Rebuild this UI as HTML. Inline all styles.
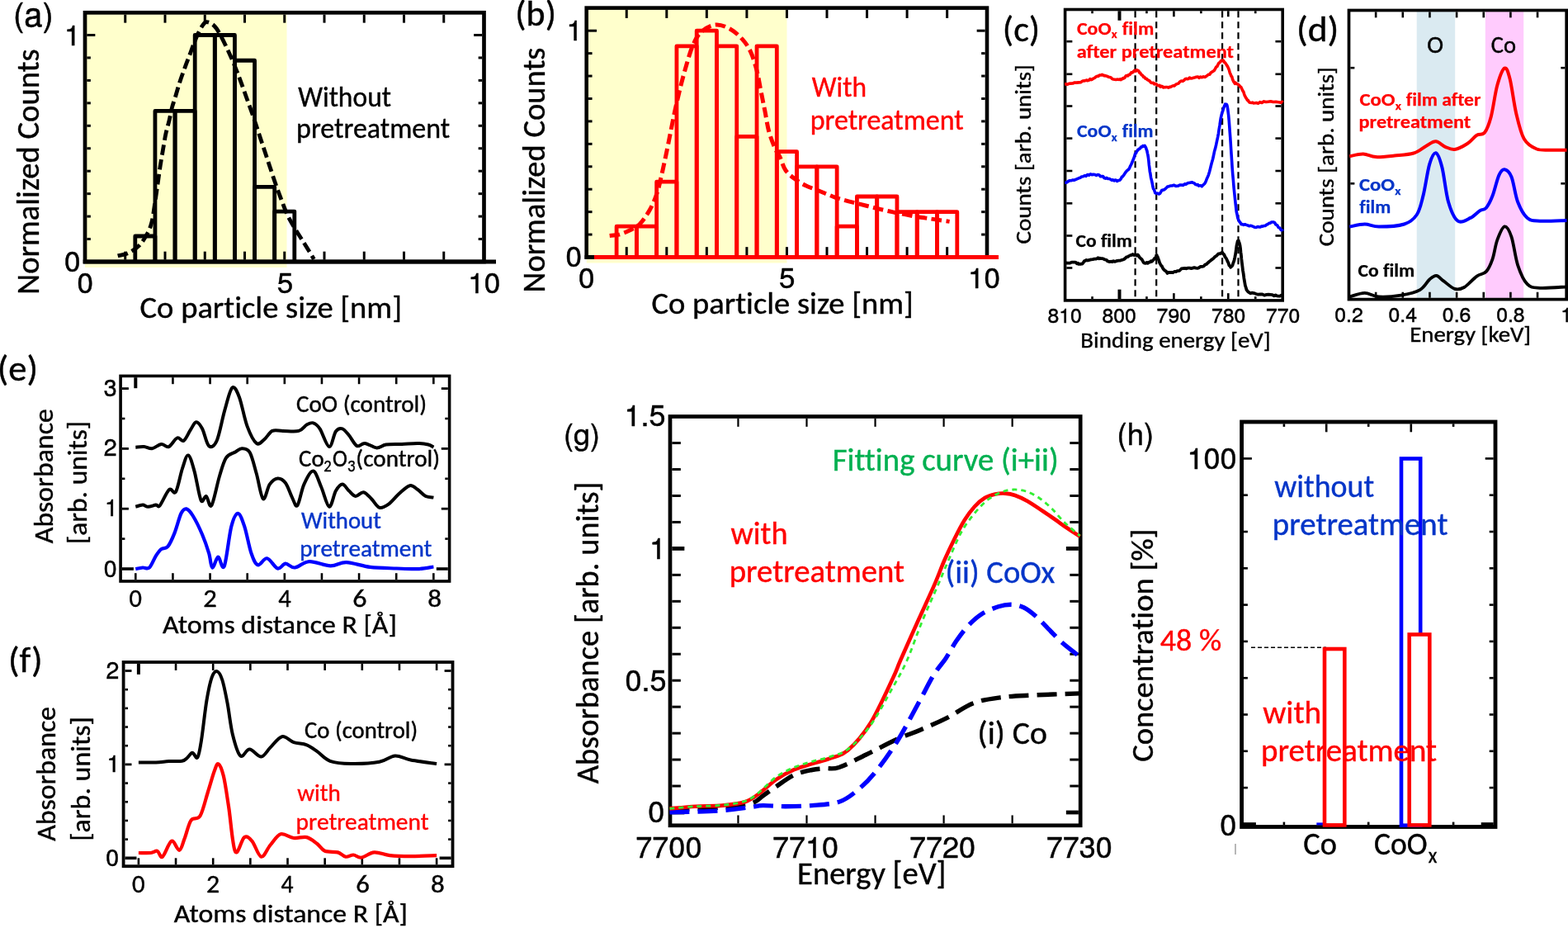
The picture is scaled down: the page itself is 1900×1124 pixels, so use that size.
<!DOCTYPE html>
<html><head><meta charset="utf-8"><title>Figure</title>
<style>html,body{margin:0;padding:0;background:#fff;}svg{display:block;}text{font-variant-ligatures:none;font-feature-settings:'liga' 0,'clig' 0;}</style></head>
<body><svg width="1900" height="1124" viewBox="0 0 1900 1124">
<rect width="1900" height="1124" fill="#fff"/>
<rect x="103" y="15.3" width="244.5" height="308.7" fill="#ffffcc" stroke="none" stroke-width="0"/>
<path d="M163.81,317 V285.98 H187.94 V317" fill="none" stroke="#000" stroke-width="4.8" stroke-linejoin="round"/>
<path d="M187.94,317 V134.46 H212.06 V317" fill="none" stroke="#000" stroke-width="4.8" stroke-linejoin="round"/>
<path d="M212.06,317 V134.46 H236.19 V317" fill="none" stroke="#000" stroke-width="4.8" stroke-linejoin="round"/>
<path d="M236.19,317 V42.5 H260.31 V317" fill="none" stroke="#000" stroke-width="4.8" stroke-linejoin="round"/>
<path d="M260.31,317 V42.5 H284.44 V317" fill="none" stroke="#000" stroke-width="4.8" stroke-linejoin="round"/>
<path d="M284.44,317 V73.24 H308.56 V317" fill="none" stroke="#000" stroke-width="4.8" stroke-linejoin="round"/>
<path d="M308.56,317 V226.41 H332.69 V317" fill="none" stroke="#000" stroke-width="4.8" stroke-linejoin="round"/>
<path d="M332.69,317 V256.06 H356.81 V317" fill="none" stroke="#000" stroke-width="4.8" stroke-linejoin="round"/>
<line x1="151.75" y1="17.65" x2="151.75" y2="27.65" stroke="#000" stroke-width="3"/>
<line x1="151.75" y1="314.65" x2="151.75" y2="304.65" stroke="#000" stroke-width="3"/>
<line x1="200" y1="17.65" x2="200" y2="27.65" stroke="#000" stroke-width="3"/>
<line x1="200" y1="314.65" x2="200" y2="304.65" stroke="#000" stroke-width="3"/>
<line x1="248.25" y1="17.65" x2="248.25" y2="27.65" stroke="#000" stroke-width="3"/>
<line x1="248.25" y1="314.65" x2="248.25" y2="304.65" stroke="#000" stroke-width="3"/>
<line x1="296.5" y1="17.65" x2="296.5" y2="27.65" stroke="#000" stroke-width="3"/>
<line x1="296.5" y1="314.65" x2="296.5" y2="304.65" stroke="#000" stroke-width="3"/>
<line x1="344.75" y1="17.65" x2="344.75" y2="27.65" stroke="#000" stroke-width="3"/>
<line x1="344.75" y1="314.65" x2="344.75" y2="304.65" stroke="#000" stroke-width="3"/>
<line x1="393" y1="17.65" x2="393" y2="27.65" stroke="#000" stroke-width="3"/>
<line x1="393" y1="314.65" x2="393" y2="304.65" stroke="#000" stroke-width="3"/>
<line x1="441.25" y1="17.65" x2="441.25" y2="27.65" stroke="#000" stroke-width="3"/>
<line x1="441.25" y1="314.65" x2="441.25" y2="304.65" stroke="#000" stroke-width="3"/>
<line x1="489.5" y1="17.65" x2="489.5" y2="27.65" stroke="#000" stroke-width="3"/>
<line x1="489.5" y1="314.65" x2="489.5" y2="304.65" stroke="#000" stroke-width="3"/>
<line x1="537.75" y1="17.65" x2="537.75" y2="27.65" stroke="#000" stroke-width="3"/>
<line x1="537.75" y1="314.65" x2="537.75" y2="304.65" stroke="#000" stroke-width="3"/>
<line x1="105.35" y1="317" x2="115.35" y2="317" stroke="#000" stroke-width="3"/>
<line x1="584.15" y1="317" x2="574.15" y2="317" stroke="#000" stroke-width="3"/>
<line x1="105.35" y1="289.55" x2="109.85" y2="289.55" stroke="#000" stroke-width="3"/>
<line x1="584.15" y1="289.55" x2="579.65" y2="289.55" stroke="#000" stroke-width="3"/>
<line x1="105.35" y1="262.1" x2="109.85" y2="262.1" stroke="#000" stroke-width="3"/>
<line x1="584.15" y1="262.1" x2="579.65" y2="262.1" stroke="#000" stroke-width="3"/>
<line x1="105.35" y1="234.65" x2="109.85" y2="234.65" stroke="#000" stroke-width="3"/>
<line x1="584.15" y1="234.65" x2="579.65" y2="234.65" stroke="#000" stroke-width="3"/>
<line x1="105.35" y1="207.2" x2="109.85" y2="207.2" stroke="#000" stroke-width="3"/>
<line x1="584.15" y1="207.2" x2="579.65" y2="207.2" stroke="#000" stroke-width="3"/>
<line x1="105.35" y1="179.75" x2="109.85" y2="179.75" stroke="#000" stroke-width="3"/>
<line x1="584.15" y1="179.75" x2="579.65" y2="179.75" stroke="#000" stroke-width="3"/>
<line x1="105.35" y1="152.3" x2="109.85" y2="152.3" stroke="#000" stroke-width="3"/>
<line x1="584.15" y1="152.3" x2="579.65" y2="152.3" stroke="#000" stroke-width="3"/>
<line x1="105.35" y1="124.85" x2="109.85" y2="124.85" stroke="#000" stroke-width="3"/>
<line x1="584.15" y1="124.85" x2="579.65" y2="124.85" stroke="#000" stroke-width="3"/>
<line x1="105.35" y1="97.4" x2="109.85" y2="97.4" stroke="#000" stroke-width="3"/>
<line x1="584.15" y1="97.4" x2="579.65" y2="97.4" stroke="#000" stroke-width="3"/>
<line x1="105.35" y1="69.95" x2="109.85" y2="69.95" stroke="#000" stroke-width="3"/>
<line x1="584.15" y1="69.95" x2="579.65" y2="69.95" stroke="#000" stroke-width="3"/>
<line x1="105.35" y1="42.5" x2="115.35" y2="42.5" stroke="#000" stroke-width="3"/>
<line x1="584.15" y1="42.5" x2="574.15" y2="42.5" stroke="#000" stroke-width="3"/>
<rect x="103" y="15.3" width="483.5" height="301.7" fill="none" stroke="#000" stroke-width="4.7" stroke-linejoin="miter"/>
<line x1="100.7" y1="317" x2="601" y2="317" stroke="#000" stroke-width="4.8"/>
<path d="M142.7,309.9 C144.8,309.33 150.93,308.62 155.3,306.5 C159.67,304.38 164.95,301.28 168.9,297.2 C172.85,293.12 176.48,286.78 179,282 C181.52,277.22 182.6,274.13 184,268.5 C185.4,262.87 186.27,255.52 187.4,248.2 C188.53,240.88 189.67,232.48 190.8,224.6 C191.93,216.72 193.07,208.22 194.2,200.9 C195.33,193.58 196.48,187.17 197.6,180.7 C198.72,174.23 199.63,168.02 200.9,162.1 C202.17,156.18 203.93,150.55 205.2,145.2 C206.47,139.85 207.33,134.47 208.5,130 C209.67,125.53 210.65,123.48 212.2,118.4 C213.75,113.32 215.75,105.8 217.8,99.5 C219.85,93.2 222.47,86.15 224.5,80.6 C226.53,75.05 228.33,70.65 230,66.2 C231.67,61.75 232.83,58.17 234.5,53.9 C236.17,49.63 238.15,44.48 240,40.6 C241.85,36.72 243.93,32.92 245.6,30.6 C247.27,28.28 248.15,26.98 250,26.7 C251.85,26.42 254.65,27.6 256.7,28.9 C258.75,30.2 260.45,32 262.3,34.5 C264.15,37 265.77,40.1 267.8,43.9 C269.83,47.7 272.45,53.03 274.5,57.3 C276.55,61.57 278.25,65.25 280.1,69.5 C281.95,73.75 283.75,78.17 285.6,82.8 C287.45,87.43 289.03,91.43 291.2,97.3 C293.37,103.17 296.18,111.25 298.6,118 C301.02,124.75 303.33,130.95 305.7,137.8 C308.07,144.65 310.43,151.98 312.8,159.1 C315.17,166.22 317.53,173.37 319.9,180.5 C322.27,187.63 324.63,194.78 327,201.9 C329.37,209.02 331.72,216.38 334.1,223.2 C336.48,230.02 338.92,236.57 341.3,242.8 C343.68,249.03 345.73,254.97 348.4,260.6 C351.07,266.23 354.33,271.57 357.3,276.6 C360.27,281.63 363.23,286.07 366.2,290.8 C369.17,295.53 372.73,301.13 375.1,305 C377.47,308.87 379.52,312.5 380.4,314" fill="none" stroke="#000" stroke-width="4.8" stroke-linejoin="round" stroke-dasharray="12.5,5.5"/>
<text x="15.9" y="31.5" font-family="'TeX Gyre Heros', 'Liberation Sans', Arial, sans-serif" font-size="40" fill="#000" stroke="#000" stroke-width="0.45">(a)</text>
<text x="77.88" y="54.7" font-family="'TeX Gyre Heros', 'Liberation Sans', Arial, sans-serif" font-size="35" fill="#000" stroke="#000" stroke-width="0.45">1</text>
<text x="78.12" y="328.5" font-family="'TeX Gyre Heros', 'Liberation Sans', Arial, sans-serif" font-size="35" fill="#000" stroke="#000" stroke-width="0.45">0</text>
<text x="93.62" y="354.5" font-family="'TeX Gyre Heros', 'Liberation Sans', Arial, sans-serif" font-size="35" fill="#000" stroke="#000" stroke-width="0.45">0</text>
<text x="335.72" y="354.5" font-family="'TeX Gyre Heros', 'Liberation Sans', Arial, sans-serif" font-size="35" fill="#000" stroke="#000" stroke-width="0.45">5</text>
<text x="567.26" y="354.5" font-family="'TeX Gyre Heros', 'Liberation Sans', Arial, sans-serif" font-size="35" fill="#000" stroke="#000" stroke-width="0.45">10</text>
<text x="361.15" y="129" font-family="Carlito, 'Liberation Sans', sans-serif" font-size="35" fill="#000" stroke="#000" stroke-width="0.4" textLength="112.83" lengthAdjust="spacingAndGlyphs">Without</text>
<text x="359.11" y="167" font-family="Carlito, 'Liberation Sans', sans-serif" font-size="35" fill="#000" stroke="#000" stroke-width="0.4" textLength="186.02" lengthAdjust="spacingAndGlyphs">pretreatment</text>
<text x="169.55" y="384.8" font-family="Carlito, 'Liberation Sans', sans-serif" font-size="37" fill="#000" stroke="#000" stroke-width="0.4" textLength="317.43" lengthAdjust="spacingAndGlyphs">Co particle size [nm]</text>
<text transform="translate(47,353.9) rotate(-90)" x="-2.8" y="0" font-family="Carlito, 'Liberation Sans', sans-serif" font-size="38" fill="#000" stroke="#000" stroke-width="0.4" textLength="297.27" lengthAdjust="spacingAndGlyphs">Normalized Counts</text>
<rect x="710.7" y="9.6" width="242.8" height="308.9" fill="#ffffcc" stroke="none" stroke-width="0"/>
<line x1="759.25" y1="11.95" x2="759.25" y2="21.95" stroke="#000" stroke-width="3"/>
<line x1="759.25" y1="309.15" x2="759.25" y2="299.15" stroke="#000" stroke-width="3"/>
<line x1="807.8" y1="11.95" x2="807.8" y2="21.95" stroke="#000" stroke-width="3"/>
<line x1="807.8" y1="309.15" x2="807.8" y2="299.15" stroke="#000" stroke-width="3"/>
<line x1="856.35" y1="11.95" x2="856.35" y2="21.95" stroke="#000" stroke-width="3"/>
<line x1="856.35" y1="309.15" x2="856.35" y2="299.15" stroke="#000" stroke-width="3"/>
<line x1="904.9" y1="11.95" x2="904.9" y2="21.95" stroke="#000" stroke-width="3"/>
<line x1="904.9" y1="309.15" x2="904.9" y2="299.15" stroke="#000" stroke-width="3"/>
<line x1="953.45" y1="11.95" x2="953.45" y2="21.95" stroke="#000" stroke-width="3"/>
<line x1="953.45" y1="309.15" x2="953.45" y2="299.15" stroke="#000" stroke-width="3"/>
<line x1="1002" y1="11.95" x2="1002" y2="21.95" stroke="#000" stroke-width="3"/>
<line x1="1002" y1="309.15" x2="1002" y2="299.15" stroke="#000" stroke-width="3"/>
<line x1="1050.55" y1="11.95" x2="1050.55" y2="21.95" stroke="#000" stroke-width="3"/>
<line x1="1050.55" y1="309.15" x2="1050.55" y2="299.15" stroke="#000" stroke-width="3"/>
<line x1="1099.1" y1="11.95" x2="1099.1" y2="21.95" stroke="#000" stroke-width="3"/>
<line x1="1099.1" y1="309.15" x2="1099.1" y2="299.15" stroke="#000" stroke-width="3"/>
<line x1="1147.65" y1="11.95" x2="1147.65" y2="21.95" stroke="#000" stroke-width="3"/>
<line x1="1147.65" y1="309.15" x2="1147.65" y2="299.15" stroke="#000" stroke-width="3"/>
<line x1="713.05" y1="311.5" x2="723.05" y2="311.5" stroke="#000" stroke-width="3"/>
<line x1="1193.65" y1="311.5" x2="1183.65" y2="311.5" stroke="#000" stroke-width="3"/>
<line x1="713.05" y1="284.07" x2="717.55" y2="284.07" stroke="#000" stroke-width="3"/>
<line x1="1193.65" y1="284.07" x2="1189.15" y2="284.07" stroke="#000" stroke-width="3"/>
<line x1="713.05" y1="256.64" x2="717.55" y2="256.64" stroke="#000" stroke-width="3"/>
<line x1="1193.65" y1="256.64" x2="1189.15" y2="256.64" stroke="#000" stroke-width="3"/>
<line x1="713.05" y1="229.21" x2="717.55" y2="229.21" stroke="#000" stroke-width="3"/>
<line x1="1193.65" y1="229.21" x2="1189.15" y2="229.21" stroke="#000" stroke-width="3"/>
<line x1="713.05" y1="201.78" x2="717.55" y2="201.78" stroke="#000" stroke-width="3"/>
<line x1="1193.65" y1="201.78" x2="1189.15" y2="201.78" stroke="#000" stroke-width="3"/>
<line x1="713.05" y1="174.35" x2="717.55" y2="174.35" stroke="#000" stroke-width="3"/>
<line x1="1193.65" y1="174.35" x2="1189.15" y2="174.35" stroke="#000" stroke-width="3"/>
<line x1="713.05" y1="146.92" x2="717.55" y2="146.92" stroke="#000" stroke-width="3"/>
<line x1="1193.65" y1="146.92" x2="1189.15" y2="146.92" stroke="#000" stroke-width="3"/>
<line x1="713.05" y1="119.49" x2="717.55" y2="119.49" stroke="#000" stroke-width="3"/>
<line x1="1193.65" y1="119.49" x2="1189.15" y2="119.49" stroke="#000" stroke-width="3"/>
<line x1="713.05" y1="92.06" x2="717.55" y2="92.06" stroke="#000" stroke-width="3"/>
<line x1="1193.65" y1="92.06" x2="1189.15" y2="92.06" stroke="#000" stroke-width="3"/>
<line x1="713.05" y1="64.63" x2="717.55" y2="64.63" stroke="#000" stroke-width="3"/>
<line x1="1193.65" y1="64.63" x2="1189.15" y2="64.63" stroke="#000" stroke-width="3"/>
<line x1="713.05" y1="37.2" x2="723.05" y2="37.2" stroke="#000" stroke-width="3"/>
<line x1="1193.65" y1="37.2" x2="1183.65" y2="37.2" stroke="#000" stroke-width="3"/>
<rect x="710.7" y="9.6" width="485.3" height="301.9" fill="none" stroke="#000" stroke-width="4.6" stroke-linejoin="miter"/>
<line x1="708.5" y1="311.5" x2="722" y2="311.5" stroke="#000" stroke-width="4.8"/>
<path d="M747.11,311.5 V274.2 H771.39 V311.5" fill="none" stroke="#ff0000" stroke-width="4.8" stroke-linejoin="round"/>
<path d="M771.39,311.5 V274.2 H795.66 V311.5" fill="none" stroke="#ff0000" stroke-width="4.8" stroke-linejoin="round"/>
<path d="M795.66,311.5 V220.16 H819.94 V311.5" fill="none" stroke="#ff0000" stroke-width="4.8" stroke-linejoin="round"/>
<path d="M819.94,311.5 V55.85 H844.21 V311.5" fill="none" stroke="#ff0000" stroke-width="4.8" stroke-linejoin="round"/>
<path d="M844.21,311.5 V37.2 H868.49 V311.5" fill="none" stroke="#ff0000" stroke-width="4.8" stroke-linejoin="round"/>
<path d="M868.49,311.5 V55.85 H892.76 V311.5" fill="none" stroke="#ff0000" stroke-width="4.8" stroke-linejoin="round"/>
<path d="M892.76,311.5 V165.3 H917.04 V311.5" fill="none" stroke="#ff0000" stroke-width="4.8" stroke-linejoin="round"/>
<path d="M917.04,311.5 V55.85 H941.31 V311.5" fill="none" stroke="#ff0000" stroke-width="4.8" stroke-linejoin="round"/>
<path d="M941.31,311.5 V183.68 H965.59 V311.5" fill="none" stroke="#ff0000" stroke-width="4.8" stroke-linejoin="round"/>
<path d="M965.59,311.5 V201.78 H989.86 V311.5" fill="none" stroke="#ff0000" stroke-width="4.8" stroke-linejoin="round"/>
<path d="M989.86,311.5 V201.78 H1014.14 V311.5" fill="none" stroke="#ff0000" stroke-width="4.8" stroke-linejoin="round"/>
<path d="M1014.14,311.5 V274.2 H1038.41 V311.5" fill="none" stroke="#ff0000" stroke-width="4.8" stroke-linejoin="round"/>
<path d="M1038.41,311.5 V237.99 H1062.69 V311.5" fill="none" stroke="#ff0000" stroke-width="4.8" stroke-linejoin="round"/>
<path d="M1062.69,311.5 V237.99 H1086.96 V311.5" fill="none" stroke="#ff0000" stroke-width="4.8" stroke-linejoin="round"/>
<path d="M1086.96,311.5 V256.64 H1111.24 V311.5" fill="none" stroke="#ff0000" stroke-width="4.8" stroke-linejoin="round"/>
<path d="M1111.24,311.5 V256.64 H1135.51 V311.5" fill="none" stroke="#ff0000" stroke-width="4.8" stroke-linejoin="round"/>
<path d="M1135.51,311.5 V256.64 H1159.79 V311.5" fill="none" stroke="#ff0000" stroke-width="4.8" stroke-linejoin="round"/>
<line x1="720" y1="311.5" x2="1210" y2="311.5" stroke="#ff0000" stroke-width="4.8"/>
<path d="M738.7,285.4 C740.58,285.18 746.05,285.13 750,284.1 C753.95,283.07 758.25,281.27 762.4,279.2 C766.55,277.13 770.75,275.87 774.9,271.7 C779.05,267.53 783.78,260.43 787.3,254.2 C790.82,247.97 793.5,241.77 796,234.3 C798.5,226.83 800.02,219.37 802.3,209.4 C804.58,199.43 807.22,186.55 809.7,174.5 C812.18,162.45 814.7,148.73 817.2,137.1 C819.7,125.47 822.2,114.67 824.7,104.7 C827.2,94.73 829.72,85.6 832.2,77.3 C834.68,69 836.7,61.33 839.6,54.9 C842.5,48.47 845.03,42.85 849.6,38.7 C854.17,34.55 861.18,30.62 867,30 C872.82,29.38 879.1,32.1 884.5,35 C889.9,37.9 895.25,42.83 899.4,47.4 C903.55,51.97 906.48,56.17 909.4,62.4 C912.32,68.63 914.82,76.92 916.9,84.8 C918.98,92.68 920.23,101.4 921.9,109.7 C923.57,118 925.25,126.3 926.9,134.6 C928.55,142.9 929.73,151.93 931.8,159.5 C933.87,167.07 937.1,174.92 939.3,180 C941.5,185.08 942.87,185.58 945,190 C947.13,194.42 948.9,201.92 952.1,206.5 C955.3,211.08 960.17,214.45 964.2,217.5 C968.23,220.55 972.27,222.78 976.3,224.8 C980.33,226.82 984.37,227.98 988.4,229.6 C992.43,231.22 996.47,232.88 1000.5,234.5 C1004.53,236.12 1008.57,237.9 1012.6,239.3 C1016.63,240.7 1020.67,241.78 1024.7,242.9 C1028.73,244.02 1032.77,244.98 1036.8,246 C1040.83,247.02 1044.87,248 1048.9,249 C1052.93,250 1056.95,251 1061,252 C1065.05,253 1069.15,254.08 1073.2,255 C1077.25,255.92 1081.27,256.68 1085.3,257.5 C1089.33,258.32 1093.37,259.1 1097.4,259.9 C1101.43,260.7 1105.47,261.6 1109.5,262.3 C1113.53,263 1117.57,263.5 1121.6,264.1 C1125.63,264.7 1128.87,265.18 1133.7,265.9 C1138.53,266.62 1147.78,267.98 1150.6,268.4" fill="none" stroke="#ff0000" stroke-width="5" stroke-linejoin="round" stroke-dasharray="12.5,5.5"/>
<text x="624.32" y="31.4" font-family="Carlito, 'Liberation Sans', sans-serif" font-size="43" fill="#000" stroke="#000" stroke-width="0.4" textLength="49.64" lengthAdjust="spacingAndGlyphs">(b)</text>
<text x="686.52" y="49.3" font-family="'TeX Gyre Heros', 'Liberation Sans', Arial, sans-serif" font-size="35" fill="#000" stroke="#000" stroke-width="0.45">1</text>
<text x="685.62" y="323" font-family="'TeX Gyre Heros', 'Liberation Sans', Arial, sans-serif" font-size="35" fill="#000" stroke="#000" stroke-width="0.45">0</text>
<text x="701.12" y="348.5" font-family="'TeX Gyre Heros', 'Liberation Sans', Arial, sans-serif" font-size="35" fill="#000" stroke="#000" stroke-width="0.45">0</text>
<text x="943.92" y="348.5" font-family="'TeX Gyre Heros', 'Liberation Sans', Arial, sans-serif" font-size="35" fill="#000" stroke="#000" stroke-width="0.45">5</text>
<text x="1173.11" y="348.5" font-family="'TeX Gyre Heros', 'Liberation Sans', Arial, sans-serif" font-size="35" fill="#000" stroke="#000" stroke-width="0.45">10</text>
<text x="983.75" y="117.4" font-family="Carlito, 'Liberation Sans', sans-serif" font-size="35" fill="#ff0000" stroke="#ff0000" stroke-width="0.4" textLength="66.24" lengthAdjust="spacingAndGlyphs">With</text>
<text x="981.71" y="156.6" font-family="Carlito, 'Liberation Sans', sans-serif" font-size="35" fill="#ff0000" stroke="#ff0000" stroke-width="0.4" textLength="185.92" lengthAdjust="spacingAndGlyphs">pretreatment</text>
<text x="789.45" y="380.3" font-family="Carlito, 'Liberation Sans', sans-serif" font-size="37" fill="#000" stroke="#000" stroke-width="0.4" textLength="317.43" lengthAdjust="spacingAndGlyphs">Co particle size [nm]</text>
<text transform="translate(659.6,351.7) rotate(-90)" x="-2.79" y="0" font-family="Carlito, 'Liberation Sans', sans-serif" font-size="38" fill="#000" stroke="#000" stroke-width="0.4" textLength="296.87" lengthAdjust="spacingAndGlyphs">Normalized Counts</text>
<line x1="1292.35" y1="50.2" x2="1299.35" y2="50.2" stroke="#000" stroke-width="2.6"/>
<line x1="1552.45" y1="50.2" x2="1545.45" y2="50.2" stroke="#000" stroke-width="2.6"/>
<line x1="1292.35" y1="89.8" x2="1299.35" y2="89.8" stroke="#000" stroke-width="2.6"/>
<line x1="1552.45" y1="89.8" x2="1545.45" y2="89.8" stroke="#000" stroke-width="2.6"/>
<line x1="1292.35" y1="128.5" x2="1299.35" y2="128.5" stroke="#000" stroke-width="2.6"/>
<line x1="1552.45" y1="128.5" x2="1545.45" y2="128.5" stroke="#000" stroke-width="2.6"/>
<line x1="1292.35" y1="167.6" x2="1299.35" y2="167.6" stroke="#000" stroke-width="2.6"/>
<line x1="1552.45" y1="167.6" x2="1545.45" y2="167.6" stroke="#000" stroke-width="2.6"/>
<line x1="1292.35" y1="207" x2="1299.35" y2="207" stroke="#000" stroke-width="2.6"/>
<line x1="1552.45" y1="207" x2="1545.45" y2="207" stroke="#000" stroke-width="2.6"/>
<line x1="1292.35" y1="246.3" x2="1299.35" y2="246.3" stroke="#000" stroke-width="2.6"/>
<line x1="1552.45" y1="246.3" x2="1545.45" y2="246.3" stroke="#000" stroke-width="2.6"/>
<line x1="1292.35" y1="285.5" x2="1299.35" y2="285.5" stroke="#000" stroke-width="2.6"/>
<line x1="1552.45" y1="285.5" x2="1545.45" y2="285.5" stroke="#000" stroke-width="2.6"/>
<line x1="1292.35" y1="324.5" x2="1299.35" y2="324.5" stroke="#000" stroke-width="2.6"/>
<line x1="1552.45" y1="324.5" x2="1545.45" y2="324.5" stroke="#000" stroke-width="2.6"/>
<line x1="1323.55" y1="13.25" x2="1323.55" y2="16.25" stroke="#000" stroke-width="2.6"/>
<line x1="1323.55" y1="362.15" x2="1323.55" y2="359.15" stroke="#000" stroke-width="2.6"/>
<line x1="1356.5" y1="13.25" x2="1356.5" y2="24.75" stroke="#000" stroke-width="4"/>
<line x1="1356.5" y1="362.15" x2="1356.5" y2="350.65" stroke="#000" stroke-width="4"/>
<line x1="1389.45" y1="13.25" x2="1389.45" y2="16.25" stroke="#000" stroke-width="2.6"/>
<line x1="1389.45" y1="362.15" x2="1389.45" y2="359.15" stroke="#000" stroke-width="2.6"/>
<line x1="1422.4" y1="13.25" x2="1422.4" y2="20.25" stroke="#000" stroke-width="2.6"/>
<line x1="1422.4" y1="362.15" x2="1422.4" y2="355.15" stroke="#000" stroke-width="2.6"/>
<line x1="1455.35" y1="13.25" x2="1455.35" y2="16.25" stroke="#000" stroke-width="2.6"/>
<line x1="1455.35" y1="362.15" x2="1455.35" y2="359.15" stroke="#000" stroke-width="2.6"/>
<line x1="1488.3" y1="13.25" x2="1488.3" y2="20.25" stroke="#000" stroke-width="2.6"/>
<line x1="1488.3" y1="362.15" x2="1488.3" y2="355.15" stroke="#000" stroke-width="2.6"/>
<line x1="1521.25" y1="13.25" x2="1521.25" y2="16.25" stroke="#000" stroke-width="2.6"/>
<line x1="1521.25" y1="362.15" x2="1521.25" y2="359.15" stroke="#000" stroke-width="2.6"/>
<line x1="1375.6" y1="13.25" x2="1375.6" y2="362.15" stroke="#000" stroke-width="2.2" stroke-dasharray="8,5"/>
<line x1="1401.2" y1="13.25" x2="1401.2" y2="362.15" stroke="#000" stroke-width="2.2" stroke-dasharray="8,5"/>
<line x1="1481.1" y1="13.25" x2="1481.1" y2="362.15" stroke="#000" stroke-width="2.2" stroke-dasharray="8,5"/>
<line x1="1500.5" y1="13.25" x2="1500.5" y2="362.15" stroke="#000" stroke-width="2.2" stroke-dasharray="8,5"/>
<rect x="1290.6" y="11.5" width="263.6" height="352.4" fill="none" stroke="#000" stroke-width="3.6" stroke-linejoin="miter"/>
<path d="M1290.1,101.82 L1291.39,101.86 L1293.16,102.27 L1295.26,101.32 L1297.56,101.13 L1299.92,100.97 L1302.2,100 L1304.51,100.13 L1306.99,99.88 L1309.53,99.66 L1312.01,98.04 L1314.34,97.87 L1316.4,97.05 L1318.15,97.72 L1319.65,97.07 L1321,95.55 L1322.27,96.57 L1323.54,96.05 L1324.9,95.05 L1326.36,94.42 L1327.87,93.06 L1329.38,92.19 L1330.84,92.42 L1332.23,91.16 L1333.5,91 L1334.59,90.86 L1335.51,90.38 L1336.36,91.03 L1337.2,91.04 L1338.12,91.82 L1339.2,91.53 L1340.45,92.1 L1341.83,92.41 L1343.28,93.29 L1344.76,93.61 L1346.25,93.94 L1347.7,95.6 L1349.15,96.04 L1350.64,96.25 L1352.13,96.45 L1353.57,96.16 L1354.95,96.23 L1356.2,96.36 L1357.3,95.86 L1358.26,96.66 L1359.14,95.63 L1360,95.81 L1360.9,94.5 L1361.9,94.83 L1363.02,94.03 L1364.21,91.97 L1365.45,91.56 L1366.69,91.92 L1367.88,90.46 L1369,90.57 L1370.05,88.93 L1371.06,87.67 L1372.03,87.84 L1372.96,87.41 L1373.85,86.04 L1374.7,85.34 L1375.47,85.44 L1376.16,86.24 L1376.8,85.8 L1377.44,84.8 L1378.13,85.2 L1378.9,85.36 L1379.75,85.95 L1380.64,88.04 L1381.57,88.13 L1382.54,89.89 L1383.55,90.86 L1384.6,91.51 L1385.68,93.36 L1386.81,93.39 L1387.97,95.19 L1389.17,95.31 L1390.41,96.71 L1391.7,97.24 L1393.06,98.13 L1394.51,100.01 L1396,100.46 L1397.49,100.34 L1398.94,101.91 L1400.3,101.44 L1401.57,102.31 L1402.78,103.59 L1403.94,103.75 L1405.09,103.35 L1406.23,105.2 L1407.4,104.34 L1408.57,104.78 L1409.71,105.97 L1410.86,105.59 L1412.03,105.78 L1413.24,105.55 L1414.5,105.54 L1415.82,106.13 L1417.17,105.24 L1418.57,105.35 L1420,104.42 L1421.48,103.91 L1423,104.03 L1424.6,102.47 L1426.28,101.66 L1428,101.11 L1429.72,98.98 L1431.4,97.97 L1433,98.35 L1434.49,97.51 L1435.89,95.97 L1437.26,95.3 L1438.62,95.68 L1440.02,95.57 L1441.5,94.01 L1443.07,94.95 L1444.69,94.69 L1446.36,94.15 L1448.04,93.79 L1449.73,93.2 L1451.4,92.96 L1453.08,94.31 L1454.78,93.06 L1456.49,93.71 L1458.17,92.82 L1459.82,93.42 L1461.4,92.55 L1462.92,91.37 L1464.4,90.32 L1465.83,90.2 L1467.23,88.05 L1468.58,87.12 L1469.9,86.39 L1471.2,85.45 L1472.47,83.44 L1473.71,81.19 L1474.89,80.53 L1475.99,77.87 L1477,76.33 L1477.88,75.72 L1478.64,75.13 L1479.33,73.8 L1479.98,73.44 L1480.62,73.41 L1481.3,73.62 L1481.99,72.99 L1482.65,73.61 L1483.31,74.91 L1483.99,75.73 L1484.71,76.14 L1485.5,77.41 L1486.38,78.86 L1487.34,80.18 L1488.34,82.31 L1489.35,84.66 L1490.31,88.39 L1491.2,90.12 L1491.99,92.45 L1492.71,92.86 L1493.4,95.68 L1494.07,97.12 L1494.76,98.99 L1495.5,99.51 L1496.28,101.36 L1497.09,100.25 L1497.91,101.15 L1498.74,101.55 L1499.57,102.03 L1500.4,102.28 L1501.24,103 L1502.09,104.05 L1502.94,105.27 L1503.78,105.5 L1504.61,107.27 L1505.4,108.94 L1506.16,110.41 L1506.89,111.42 L1507.59,113.86 L1508.29,115.79 L1508.99,117 L1509.7,118.5 L1510.37,119.26 L1510.98,120.57 L1511.59,121.46 L1512.26,121.34 L1513.04,122.86 L1514,123.99 L1515.11,124.29 L1516.31,124.43 L1517.63,124.17 L1519.09,124.92 L1520.7,124.79 L1522.5,124.6 L1524.5,125.14 L1526.71,123.68 L1529.07,124.41 L1531.55,122.91 L1534.11,123.53 L1536.7,123.17 L1539.57,122.74 L1542.79,123.55 L1546.09,123.35 L1549.19,123.68 L1551.82,124.3 L1553.7,123.31 L1553.7,123.7" fill="none" stroke="#ff0000" stroke-width="3.6" stroke-linejoin="round"/>
<path d="M1290.3,221.26 L1291.36,221.23 L1292.81,220.82 L1294.54,219.47 L1296.41,218.69 L1298.31,218.68 L1300.1,217.94 L1301.82,218.2 L1303.57,217.37 L1305.35,216.56 L1307.14,215.83 L1308.92,215.35 L1310.7,213.93 L1312.47,213.81 L1314.23,212.75 L1316,213.34 L1317.77,211.46 L1319.53,212.26 L1321.3,210.82 L1323.08,211.72 L1324.89,211.22 L1326.69,211.5 L1328.48,212.46 L1330.22,211.47 L1331.9,211.9 L1333.5,213.71 L1335.05,213.61 L1336.55,213.55 L1338.03,215.62 L1339.51,216.17 L1341,215.38 L1342.53,216.39 L1344.09,216.46 L1345.64,217.25 L1347.17,218.19 L1348.63,217.82 L1350,218.91 L1351.28,218.04 L1352.49,218.36 L1353.63,219.42 L1354.73,218.65 L1355.78,218.39 L1356.8,218.15 L1357.74,217.17 L1358.59,215.97 L1359.4,214.18 L1360.22,213.95 L1361.1,212.93 L1362.1,211.56 L1363.25,209.72 L1364.52,207.9 L1365.86,206.52 L1367.2,205.55 L1368.5,203.86 L1369.7,201.08 L1370.81,199 L1371.87,196.56 L1372.89,193.98 L1373.86,191.69 L1374.8,188.67 L1375.7,185.85 L1376.52,185.55 L1377.26,183.68 L1377.95,182.84 L1378.66,181.55 L1379.42,181.13 L1380.3,180.32 L1381.34,180.06 L1382.51,178.03 L1383.75,177.87 L1384.97,176.63 L1386.11,177.21 L1387.1,176.46 L1387.92,177.7 L1388.62,179.1 L1389.24,181.24 L1389.8,182.35 L1390.35,185.37 L1390.9,187.63 L1391.43,190.89 L1391.9,194.87 L1392.36,199.64 L1392.82,203 L1393.32,207.79 L1393.9,210.27 L1394.56,215.1 L1395.29,217.9 L1396.05,221.23 L1396.84,225.49 L1397.63,228.7 L1398.4,229.61 L1399.14,231.77 L1399.87,233.82 L1400.61,233.96 L1401.36,234.29 L1402.15,234.15 L1403,234.26 L1403.88,234.96 L1404.78,234.95 L1405.72,234.12 L1406.72,232.33 L1407.8,230.55 L1409,230.12 L1410.29,229.96 L1411.64,229.05 L1413.08,227.73 L1414.62,226.12 L1416.29,225.77 L1418.1,225.06 L1420.14,224.95 L1422.41,224.25 L1424.81,225.35 L1427.22,225.29 L1429.55,224.08 L1431.7,224.07 L1433.66,224.51 L1435.51,222.87 L1437.28,223.17 L1438.99,221.78 L1440.65,221.54 L1442.3,221.33 L1443.94,220.72 L1445.56,221.31 L1447.14,221.93 L1448.65,223.33 L1450.08,223.98 L1451.4,223.51 L1452.58,225.06 L1453.63,224.68 L1454.59,224.69 L1455.51,225.11 L1456.43,225.78 L1457.4,224.5 L1458.41,223.59 L1459.43,222.74 L1460.45,221.18 L1461.47,218.94 L1462.49,216.17 L1463.5,213.94 L1464.5,211.59 L1465.5,208.2 L1466.5,204.37 L1467.5,200.26 L1468.5,196.39 L1469.5,192.98 L1470.53,188.5 L1471.59,183.15 L1472.64,179.62 L1473.68,175.22 L1474.67,170.39 L1475.6,166.04 L1476.44,161.54 L1477.22,156.3 L1477.95,152.12 L1478.66,147.07 L1479.37,142.58 L1480.1,139.47 L1480.87,136.3 L1481.65,134.47 L1482.44,131.62 L1483.2,129.34 L1483.93,127.94 L1484.6,126.2 L1485.2,126.36 L1485.74,126.5 L1486.24,126.39 L1486.73,127.18 L1487.21,129.24 L1487.7,131.82 L1488.21,136.19 L1488.71,140.1 L1489.21,145.59 L1489.7,152.07 L1490.2,159.14 L1490.7,165.82 L1491.18,172.52 L1491.64,180.34 L1492.1,187.13 L1492.58,194.47 L1493.11,203.08 L1493.7,210.71 L1494.38,218.21 L1495.12,227.35 L1495.91,235.18 L1496.71,242.93 L1497.52,250.1 L1498.3,256.81 L1499,259.55 L1499.64,263.18 L1500.27,265.24 L1500.96,266.72 L1501.78,268.39 L1502.8,269.35 L1504.02,271.6 L1505.38,271.62 L1506.88,272.34 L1508.47,271.72 L1510.16,272.41 L1511.9,272.97 L1513.78,273.81 L1515.83,273.36 L1517.96,274.16 L1520.09,275.19 L1522.13,275.43 L1524,274.56 L1525.68,274.97 L1527.23,275.07 L1528.69,274.11 L1530.11,274.09 L1531.53,273.57 L1533,273.56 L1534.56,272.26 L1536.19,271.66 L1537.83,270.29 L1539.4,270.13 L1540.84,268.93 L1542.1,269 L1543.09,268.94 L1543.86,269.28 L1544.5,269.65 L1545.12,270.59 L1545.82,271.98 L1546.7,272.4 L1547.87,273.11 L1549.26,275.58 L1550.74,276.09 L1552.15,278.42 L1553.35,278.98 L1554.2,279.42 L1554.2,279.6" fill="none" stroke="#0000ff" stroke-width="3.6" stroke-linejoin="round"/>
<path d="M1291.6,318.01 L1292.79,318.64 L1294.48,318.53 L1296.46,318.68 L1298.53,317.54 L1300.51,317.59 L1302.2,317.54 L1303.59,317.94 L1304.83,319.22 L1305.97,318.78 L1307.06,319.89 L1308.16,319.66 L1309.3,319.77 L1310.43,319.58 L1311.51,319.52 L1312.58,318.25 L1313.71,316.35 L1314.97,315.86 L1316.4,314.93 L1318.1,315.53 L1320.04,314.91 L1322.1,314.45 L1324.16,314.09 L1326.1,313.64 L1327.8,313.72 L1329.23,313.29 L1330.49,312.32 L1331.62,313.23 L1332.69,312.68 L1333.77,313.22 L1334.9,313.1 L1336.08,313.21 L1337.27,313.58 L1338.45,314.23 L1339.63,314.61 L1340.82,314.8 L1342,316.31 L1343.15,316.56 L1344.26,317.11 L1345.37,316.82 L1346.52,316.73 L1347.75,317.11 L1349.1,316.12 L1350.62,316.91 L1352.27,316.4 L1354.01,315.78 L1355.77,315.54 L1357.49,315.69 L1359.1,314.81 L1360.62,314.52 L1362.1,313.98 L1363.53,312.78 L1364.93,311.48 L1366.28,311.25 L1367.6,310.18 L1368.88,309.62 L1370.12,309.04 L1371.33,308.86 L1372.49,308.04 L1373.61,308.73 L1374.7,309.13 L1375.72,308.27 L1376.68,308.96 L1377.59,309.59 L1378.5,308.58 L1379.43,309.3 L1380.4,311.09 L1381.41,312.19 L1382.43,313.26 L1383.47,314.03 L1384.54,315.92 L1385.64,317.89 L1386.8,318.72 L1388.04,318.9 L1389.37,317.94 L1390.74,318.73 L1392.1,317.54 L1393.41,317.57 L1394.6,316.12 L1395.72,316.84 L1396.81,315.46 L1397.85,314.77 L1398.8,313.06 L1399.62,312.88 L1400.3,312.13 L1400.75,311.47 L1400.98,310.34 L1401.09,310.23 L1401.18,309.13 L1401.35,308.92 L1401.7,309.06 L1402.22,310.87 L1402.81,311.46 L1403.49,313.5 L1404.25,315.28 L1405.09,318.21 L1406,319.89 L1406.99,321.62 L1408.06,322.68 L1409.2,325.18 L1410.42,326.74 L1411.72,327.79 L1413.1,328.7 L1414.55,330.94 L1416.09,329.85 L1417.69,330.19 L1419.38,329.99 L1421.15,330.23 L1423,329.02 L1424.98,329.07 L1427.1,328.05 L1429.31,327.8 L1431.53,325.47 L1433.71,325.13 L1435.8,324.79 L1437.78,325.3 L1439.71,324.57 L1441.59,324.63 L1443.46,325.1 L1445.32,324.59 L1447.2,324.05 L1449.1,324.54 L1451.02,324.86 L1452.94,324.18 L1454.83,322.9 L1456.69,322.95 L1458.5,322.46 L1460.23,320.59 L1461.88,320.04 L1463.5,318.47 L1465.12,317.02 L1466.77,315.77 L1468.5,314.33 L1470.37,313.05 L1472.38,310.78 L1474.42,309.54 L1476.4,307.42 L1478.23,307.28 L1479.8,306.46 L1481.07,305.66 L1482.11,307.61 L1483,307.81 L1483.81,309.67 L1484.61,311.31 L1485.5,312.43 L1486.47,314.1 L1487.45,316.5 L1488.44,318.31 L1489.4,321.56 L1490.33,321.93 L1491.2,323.82 L1492,322.79 L1492.74,322.31 L1493.44,321.32 L1494.13,319.16 L1494.81,317.3 L1495.5,315.28 L1496.22,312.12 L1496.96,308.49 L1497.69,303.92 L1498.4,297.85 L1499.08,294.89 L1499.7,291.91 L1500.26,292.1 L1500.77,291.4 L1501.24,293.18 L1501.69,294.16 L1502.14,295.52 L1502.6,297.71 L1503.06,301.05 L1503.49,305.73 L1503.91,308.76 L1504.36,313.75 L1504.85,318.08 L1505.4,322.35 L1506.01,327.48 L1506.67,331.28 L1507.37,336.86 L1508.11,341.3 L1508.88,345.72 L1509.7,348.23 L1510.47,351.1 L1511.18,351.82 L1511.93,352.99 L1512.82,353.69 L1513.94,354.55 L1515.4,355.24 L1517.27,354.59 L1519.5,355.07 L1521.97,356.03 L1524.55,356.73 L1527.13,356.51 L1529.6,356.38 L1532.03,357.7 L1534.54,356.89 L1537.06,356.77 L1539.49,356.91 L1541.76,357.03 L1543.8,358.26 L1545.64,357.34 L1547.37,358.33 L1548.94,358.56 L1550.31,358.74 L1551.44,358.41 L1552.3,357.78 L1552.3,357.9" fill="none" stroke="#000" stroke-width="3.8" stroke-linejoin="round"/>
<text x="1214.8" y="49.8" font-family="Carlito, 'Liberation Sans', sans-serif" font-size="43.5" fill="#000" stroke="#000" stroke-width="0.4" textLength="45.37" lengthAdjust="spacingAndGlyphs">(c)</text>
<text x="1305.02" y="41.7" font-family="Carlito, 'Liberation Sans', sans-serif" font-size="22.5" font-weight="bold" fill="#ff0000" stroke="#ff0000" stroke-width="0.25" textLength="41.53" lengthAdjust="spacingAndGlyphs">CoO</text>
<text x="1346.89" y="46.3" font-family="Carlito, 'Liberation Sans', sans-serif" font-size="14.5" font-weight="bold" fill="#ff0000" stroke="#ff0000" stroke-width="0.25" textLength="6.92" lengthAdjust="spacingAndGlyphs">x</text>
<text x="1359.76" y="41.7" font-family="Carlito, 'Liberation Sans', sans-serif" font-size="22.5" font-weight="bold" fill="#ff0000" stroke="#ff0000" stroke-width="0.25" textLength="38.51" lengthAdjust="spacingAndGlyphs">film</text>
<text x="1304.65" y="70" font-family="Carlito, 'Liberation Sans', sans-serif" font-size="22.5" font-weight="bold" fill="#ff0000" stroke="#ff0000" stroke-width="0.25" textLength="190.28" lengthAdjust="spacingAndGlyphs">after pretreatment</text>
<text x="1305.02" y="166.2" font-family="Carlito, 'Liberation Sans', sans-serif" font-size="22.5" font-weight="bold" fill="#0535c8" stroke="#0535c8" stroke-width="0.25" textLength="41.53" lengthAdjust="spacingAndGlyphs">CoO</text>
<text x="1346.89" y="170.8" font-family="Carlito, 'Liberation Sans', sans-serif" font-size="14.5" font-weight="bold" fill="#0535c8" stroke="#0535c8" stroke-width="0.25" textLength="6.92" lengthAdjust="spacingAndGlyphs">x</text>
<text x="1359.77" y="166.2" font-family="Carlito, 'Liberation Sans', sans-serif" font-size="22.5" font-weight="bold" fill="#0535c8" stroke="#0535c8" stroke-width="0.25" textLength="37.78" lengthAdjust="spacingAndGlyphs">film</text>
<text x="1303.53" y="298.5" font-family="Carlito, 'Liberation Sans', sans-serif" font-size="22.5" font-weight="bold" fill="#000" stroke="#000" stroke-width="0.25" textLength="68.44" lengthAdjust="spacingAndGlyphs">Co film</text>
<text x="1269.5" y="390.5" font-family="'TeX Gyre Heros', 'Liberation Sans', Arial, sans-serif" font-size="24.8" fill="#000" stroke="#000" stroke-width="0.45">810</text>
<text x="1335.5" y="390.5" font-family="'TeX Gyre Heros', 'Liberation Sans', Arial, sans-serif" font-size="24.8" fill="#000" stroke="#000" stroke-width="0.45">800</text>
<text x="1401.6" y="390.5" font-family="'TeX Gyre Heros', 'Liberation Sans', Arial, sans-serif" font-size="24.8" fill="#000" stroke="#000" stroke-width="0.45">790</text>
<text x="1467.9" y="390.5" font-family="'TeX Gyre Heros', 'Liberation Sans', Arial, sans-serif" font-size="24.8" fill="#000" stroke="#000" stroke-width="0.45">780</text>
<text x="1534" y="390.5" font-family="'TeX Gyre Heros', 'Liberation Sans', Arial, sans-serif" font-size="24.8" fill="#000" stroke="#000" stroke-width="0.45">770</text>
<text x="1309.38" y="421" font-family="Carlito, 'Liberation Sans', sans-serif" font-size="27.5" fill="#000" stroke="#000" stroke-width="0.4" textLength="230.24" lengthAdjust="spacingAndGlyphs">Binding energy [eV]</text>
<text transform="translate(1248.6,294.6) rotate(-90)" x="-0.94" y="0" font-family="Carlito, 'Liberation Sans', sans-serif" font-size="27.5" fill="#000" stroke="#000" stroke-width="0.4" textLength="217.43" lengthAdjust="spacingAndGlyphs">Counts [arb. units]</text>
<rect x="1716.7" y="12.5" width="46.5" height="350.1" fill="#daeaf1" stroke="none" stroke-width="0"/>
<rect x="1799.8" y="12.5" width="46.4" height="350.1" fill="#ffcbfd" stroke="none" stroke-width="0"/>
<line x1="1636.35" y1="82.2" x2="1641.35" y2="82.2" stroke="#000" stroke-width="2.6"/>
<line x1="1896.35" y1="82.2" x2="1891.35" y2="82.2" stroke="#000" stroke-width="2.6"/>
<line x1="1636.35" y1="222.3" x2="1641.35" y2="222.3" stroke="#000" stroke-width="2.6"/>
<line x1="1896.35" y1="222.3" x2="1891.35" y2="222.3" stroke="#000" stroke-width="2.6"/>
<line x1="1667.15" y1="14.35" x2="1667.15" y2="21.35" stroke="#000" stroke-width="2.6"/>
<line x1="1667.15" y1="360.75" x2="1667.15" y2="353.75" stroke="#000" stroke-width="2.6"/>
<line x1="1699.8" y1="14.35" x2="1699.8" y2="21.35" stroke="#000" stroke-width="2.6"/>
<line x1="1699.8" y1="360.75" x2="1699.8" y2="353.75" stroke="#000" stroke-width="2.6"/>
<line x1="1732.45" y1="14.35" x2="1732.45" y2="21.35" stroke="#000" stroke-width="2.6"/>
<line x1="1732.45" y1="360.75" x2="1732.45" y2="353.75" stroke="#000" stroke-width="2.6"/>
<line x1="1765.1" y1="14.35" x2="1765.1" y2="21.35" stroke="#000" stroke-width="2.6"/>
<line x1="1765.1" y1="360.75" x2="1765.1" y2="353.75" stroke="#000" stroke-width="2.6"/>
<line x1="1797.75" y1="14.35" x2="1797.75" y2="21.35" stroke="#000" stroke-width="2.6"/>
<line x1="1797.75" y1="360.75" x2="1797.75" y2="353.75" stroke="#000" stroke-width="2.6"/>
<line x1="1830.4" y1="14.35" x2="1830.4" y2="21.35" stroke="#000" stroke-width="2.6"/>
<line x1="1830.4" y1="360.75" x2="1830.4" y2="353.75" stroke="#000" stroke-width="2.6"/>
<line x1="1863.05" y1="14.35" x2="1863.05" y2="21.35" stroke="#000" stroke-width="2.6"/>
<line x1="1863.05" y1="360.75" x2="1863.05" y2="353.75" stroke="#000" stroke-width="2.6"/>
<rect x="1634.5" y="12.5" width="263.7" height="350.1" fill="none" stroke="#000" stroke-width="3.7" stroke-linejoin="miter"/>
<path d="M1635.3,189.3 C1638.05,188.85 1646.5,186.47 1651.8,186.6 C1657.1,186.73 1660.73,189.78 1667.1,190.1 C1673.47,190.42 1682.35,189.27 1690,188.5 C1697.65,187.73 1706.62,187.47 1713,185.5 C1719.38,183.53 1723.83,179.07 1728.3,176.7 C1732.77,174.33 1735.98,171.12 1739.8,171.3 C1743.62,171.48 1747.38,176.2 1751.2,177.8 C1755.02,179.4 1758.23,181.53 1762.7,180.9 C1767.17,180.27 1773.53,176.87 1778,174 C1782.47,171.13 1786,165.93 1789.5,163.7 C1793,161.47 1796.13,164.3 1799,160.6 C1801.87,156.9 1804.15,151.05 1806.7,141.5 C1809.25,131.95 1811.57,113.12 1814.3,103.3 C1817.03,93.48 1820.55,83.88 1823.1,82.6 C1825.65,81.32 1827.23,86.42 1829.6,95.6 C1831.97,104.78 1834.43,125.58 1837.3,137.7 C1840.17,149.82 1842.67,161.17 1846.8,168.3 C1850.93,175.43 1856.37,178.27 1862.1,180.5 C1867.83,182.73 1875.13,181.5 1881.2,181.7 C1887.27,181.9 1895.62,181.7 1898.5,181.7" fill="none" stroke="#ff0000" stroke-width="4" stroke-linejoin="round"/>
<path d="M1635.3,274.6 C1638.37,274.08 1647.77,271.5 1653.7,271.5 C1659.63,271.5 1662.93,274.6 1670.9,274.6 C1678.87,274.6 1693.85,273.93 1701.5,271.5 C1709.15,269.07 1712.97,265.73 1716.8,260 C1720.63,254.27 1721.93,247.28 1724.5,237.1 C1727.07,226.92 1729.65,207.55 1732.2,198.9 C1734.75,190.25 1737.27,184.57 1739.8,185.2 C1742.33,185.83 1744.85,192.77 1747.4,202.7 C1749.95,212.63 1751.92,233.97 1755.1,244.8 C1758.28,255.63 1762.05,264.52 1766.5,267.7 C1770.95,270.88 1777.33,266 1781.8,263.9 C1786.27,261.8 1790.12,257.13 1793.3,255.1 C1796.48,253.07 1798.35,254.7 1800.9,251.7 C1803.45,248.7 1806.03,243.67 1808.6,237.1 C1811.17,230.53 1813.88,217.62 1816.3,212.3 C1818.72,206.98 1820.57,204.88 1823.1,205.2 C1825.63,205.52 1828.82,207.6 1831.5,214.2 C1834.18,220.8 1836,236.52 1839.2,244.8 C1842.4,253.08 1846.23,260.08 1850.7,263.9 C1855.17,267.72 1858.03,267.2 1866,267.7 C1873.97,268.2 1893.08,267.03 1898.5,266.9" fill="none" stroke="#0000ff" stroke-width="4" stroke-linejoin="round"/>
<path d="M1635.3,359.5 C1638.37,358.73 1647.77,354.9 1653.7,354.9 C1659.63,354.9 1663.57,359.05 1670.9,359.5 C1678.23,359.95 1689.42,359 1697.7,357.6 C1705.98,356.2 1714.85,354.28 1720.6,351.1 C1726.35,347.92 1728.88,341.37 1732.2,338.5 C1735.52,335.63 1737.65,333.58 1740.5,333.9 C1743.35,334.22 1745.6,337.73 1749.3,340.4 C1753,343.07 1758.55,348.63 1762.7,349.9 C1766.85,351.17 1769.73,350.55 1774.2,348 C1778.67,345.45 1785.05,337.78 1789.5,334.6 C1793.95,331.42 1797.72,332.4 1800.9,328.9 C1804.08,325.4 1806.37,319.97 1808.6,313.6 C1810.83,307.23 1811.88,297.23 1814.3,290.7 C1816.72,284.17 1820.23,275.05 1823.1,274.4 C1825.97,273.75 1828.82,278.98 1831.5,286.8 C1834.18,294.62 1836,311.73 1839.2,321.3 C1842.4,330.87 1846.23,339.62 1850.7,344.2 C1855.17,348.78 1858.03,348.28 1866,348.8 C1873.97,349.32 1893.08,347.55 1898.5,347.3" fill="none" stroke="#000" stroke-width="3.8" stroke-linejoin="round"/>
<text x="1729.15" y="63.6" font-family="Carlito, 'Liberation Sans', sans-serif" font-size="28.5" fill="#000" stroke="#000" stroke-width="0.4" textLength="19.78" lengthAdjust="spacingAndGlyphs">O</text>
<text x="1806.87" y="63.5" font-family="Carlito, 'Liberation Sans', sans-serif" font-size="28.5" fill="#000" stroke="#000" stroke-width="0.4" textLength="30.21" lengthAdjust="spacingAndGlyphs">Co</text>
<text x="1571.01" y="49.7" font-family="Carlito, 'Liberation Sans', sans-serif" font-size="42.5" fill="#000" stroke="#000" stroke-width="0.4" textLength="51.37" lengthAdjust="spacingAndGlyphs">(d)</text>
<text x="1647.51" y="128" font-family="Carlito, 'Liberation Sans', sans-serif" font-size="23" font-weight="bold" fill="#ff0000" stroke="#ff0000" stroke-width="0.25" textLength="43.07" lengthAdjust="spacingAndGlyphs">CoO</text>
<text x="1690.88" y="132.5" font-family="Carlito, 'Liberation Sans', sans-serif" font-size="14.5" font-weight="bold" fill="#ff0000" stroke="#ff0000" stroke-width="0.25" textLength="7.23" lengthAdjust="spacingAndGlyphs">x</text>
<text x="1703.76" y="128" font-family="Carlito, 'Liberation Sans', sans-serif" font-size="23" font-weight="bold" fill="#ff0000" stroke="#ff0000" stroke-width="0.25" textLength="90.6" lengthAdjust="spacingAndGlyphs">film after</text>
<text x="1646.55" y="155" font-family="Carlito, 'Liberation Sans', sans-serif" font-size="23" font-weight="bold" fill="#ff0000" stroke="#ff0000" stroke-width="0.25" textLength="135.59" lengthAdjust="spacingAndGlyphs">pretreatment</text>
<text x="1647.01" y="231.4" font-family="Carlito, 'Liberation Sans', sans-serif" font-size="23" font-weight="bold" fill="#0535c8" stroke="#0535c8" stroke-width="0.25" textLength="43.07" lengthAdjust="spacingAndGlyphs">CoO</text>
<text x="1690.38" y="236" font-family="Carlito, 'Liberation Sans', sans-serif" font-size="14.5" font-weight="bold" fill="#0535c8" stroke="#0535c8" stroke-width="0.25" textLength="7.23" lengthAdjust="spacingAndGlyphs">x</text>
<text x="1647.26" y="258" font-family="Carlito, 'Liberation Sans', sans-serif" font-size="23" font-weight="bold" fill="#0535c8" stroke="#0535c8" stroke-width="0.25" textLength="37.99" lengthAdjust="spacingAndGlyphs">film</text>
<text x="1645.53" y="334.6" font-family="Carlito, 'Liberation Sans', sans-serif" font-size="23" font-weight="bold" fill="#000" stroke="#000" stroke-width="0.25" textLength="68.75" lengthAdjust="spacingAndGlyphs">Co film</text>
<text x="1617.3" y="389.5" font-family="'TeX Gyre Heros', 'Liberation Sans', Arial, sans-serif" font-size="24.8" fill="#000" stroke="#000" stroke-width="0.45">0.2</text>
<text x="1682.47" y="389.5" font-family="'TeX Gyre Heros', 'Liberation Sans', Arial, sans-serif" font-size="24.8" fill="#000" stroke="#000" stroke-width="0.45">0.4</text>
<text x="1747.86" y="389.5" font-family="'TeX Gyre Heros', 'Liberation Sans', Arial, sans-serif" font-size="24.8" fill="#000" stroke="#000" stroke-width="0.45">0.6</text>
<text x="1813.16" y="389.5" font-family="'TeX Gyre Heros', 'Liberation Sans', Arial, sans-serif" font-size="24.8" fill="#000" stroke="#000" stroke-width="0.45">0.8</text>
<text x="1891.22" y="389.5" font-family="'TeX Gyre Heros', 'Liberation Sans', Arial, sans-serif" font-size="24.8" fill="#000" stroke="#000" stroke-width="0.45">1</text>
<text x="1708.28" y="414.4" font-family="Carlito, 'Liberation Sans', sans-serif" font-size="27" fill="#000" stroke="#000" stroke-width="0.4" textLength="146.92" lengthAdjust="spacingAndGlyphs">Energy [keV]</text>
<text transform="translate(1615.6,297.3) rotate(-90)" x="-0.94" y="0" font-family="Carlito, 'Liberation Sans', sans-serif" font-size="27.5" fill="#000" stroke="#000" stroke-width="0.4" textLength="217.23" lengthAdjust="spacingAndGlyphs">Counts [arb. units]</text>
<line x1="209.43" y1="457.2" x2="209.43" y2="465.2" stroke="#000" stroke-width="2.6"/>
<line x1="209.43" y1="702.2" x2="209.43" y2="694.2" stroke="#000" stroke-width="2.6"/>
<line x1="254.56" y1="457.2" x2="254.56" y2="465.2" stroke="#000" stroke-width="2.6"/>
<line x1="254.56" y1="702.2" x2="254.56" y2="694.2" stroke="#000" stroke-width="2.6"/>
<line x1="299.69" y1="457.2" x2="299.69" y2="465.2" stroke="#000" stroke-width="2.6"/>
<line x1="299.69" y1="702.2" x2="299.69" y2="694.2" stroke="#000" stroke-width="2.6"/>
<line x1="344.82" y1="457.2" x2="344.82" y2="465.2" stroke="#000" stroke-width="2.6"/>
<line x1="344.82" y1="702.2" x2="344.82" y2="694.2" stroke="#000" stroke-width="2.6"/>
<line x1="389.95" y1="457.2" x2="389.95" y2="465.2" stroke="#000" stroke-width="2.6"/>
<line x1="389.95" y1="702.2" x2="389.95" y2="694.2" stroke="#000" stroke-width="2.6"/>
<line x1="435.08" y1="457.2" x2="435.08" y2="465.2" stroke="#000" stroke-width="2.6"/>
<line x1="435.08" y1="702.2" x2="435.08" y2="694.2" stroke="#000" stroke-width="2.6"/>
<line x1="480.21" y1="457.2" x2="480.21" y2="465.2" stroke="#000" stroke-width="2.6"/>
<line x1="480.21" y1="702.2" x2="480.21" y2="694.2" stroke="#000" stroke-width="2.6"/>
<line x1="525.34" y1="457.2" x2="525.34" y2="465.2" stroke="#000" stroke-width="2.6"/>
<line x1="525.34" y1="702.2" x2="525.34" y2="694.2" stroke="#000" stroke-width="2.6"/>
<line x1="164.3" y1="457.2" x2="164.3" y2="470.2" stroke="#000" stroke-width="4"/>
<line x1="164.3" y1="702.2" x2="164.3" y2="694.2" stroke="#000" stroke-width="2.6"/>
<line x1="147.9" y1="652.6" x2="151.4" y2="652.6" stroke="#000" stroke-width="2.6"/>
<line x1="542.8" y1="652.6" x2="539.3" y2="652.6" stroke="#000" stroke-width="2.6"/>
<line x1="147.9" y1="579.8" x2="151.4" y2="579.8" stroke="#000" stroke-width="2.6"/>
<line x1="542.8" y1="579.8" x2="539.3" y2="579.8" stroke="#000" stroke-width="2.6"/>
<line x1="147.9" y1="507" x2="151.4" y2="507" stroke="#000" stroke-width="2.6"/>
<line x1="542.8" y1="507" x2="539.3" y2="507" stroke="#000" stroke-width="2.6"/>
<line x1="147.9" y1="689" x2="161.9" y2="689" stroke="#000" stroke-width="3.6"/>
<line x1="542.8" y1="689" x2="528.8" y2="689" stroke="#000" stroke-width="3.6"/>
<line x1="147.9" y1="616.2" x2="155.9" y2="616.2" stroke="#000" stroke-width="2.8"/>
<line x1="542.8" y1="616.2" x2="534.8" y2="616.2" stroke="#000" stroke-width="2.8"/>
<line x1="147.9" y1="543.4" x2="155.9" y2="543.4" stroke="#000" stroke-width="2.8"/>
<line x1="542.8" y1="543.4" x2="534.8" y2="543.4" stroke="#000" stroke-width="2.8"/>
<line x1="147.9" y1="470.6" x2="155.9" y2="470.6" stroke="#000" stroke-width="2.8"/>
<line x1="542.8" y1="470.6" x2="534.8" y2="470.6" stroke="#000" stroke-width="2.8"/>
<rect x="146.1" y="455.4" width="398.5" height="248.6" fill="none" stroke="#000" stroke-width="3.6" stroke-linejoin="miter"/>
<path d="M164.3,541.7 C166.02,541.6 171.28,540.83 174.6,541.1 C177.92,541.37 180.73,543.83 184.2,543.3 C187.67,542.77 192.03,538.27 195.4,537.9 C198.77,537.53 201.2,542.33 204.4,541.1 C207.6,539.87 211.55,531.73 214.6,530.5 C217.65,529.27 220.02,535.3 222.7,533.7 C225.38,532.1 228.2,524.63 230.7,520.9 C233.2,517.17 235.3,511.57 237.7,511.3 C240.1,511.03 242.53,514.5 245.1,519.3 C247.67,524.1 250.17,537.7 253.1,540.1 C256.03,542.5 259.5,540.9 262.7,533.7 C265.9,526.5 269.2,507.57 272.3,496.9 C275.4,486.23 278.37,472.37 281.3,469.7 C284.23,467.03 286.87,473.17 289.9,480.9 C292.93,488.63 296.02,506.77 299.5,516.1 C302.98,525.43 307.32,534.23 310.8,536.9 C314.28,539.57 317.2,534.6 320.4,532.1 C323.6,529.6 326.27,523.6 330,521.9 C333.73,520.2 337.47,521.9 342.8,521.9 C348.13,521.9 357.2,523.13 362,521.9 C366.8,520.67 368.67,516.1 371.6,514.5 C374.53,512.9 376.93,511.5 379.6,512.3 C382.27,513.1 384.38,514.5 387.6,519.3 C390.82,524.1 395.68,540.57 398.9,541.1 C402.12,541.63 404.23,526.13 406.9,522.5 C409.57,518.87 412.23,518.5 414.9,519.3 C417.57,520.1 419.97,523.83 422.9,527.3 C425.83,530.77 429.3,538.5 432.5,540.1 C435.7,541.7 438.1,536.52 442.1,536.9 C446.1,537.28 452.23,542.13 456.5,542.4 C460.77,542.67 462.62,539.25 467.7,538.5 C472.78,537.75 480.58,538.17 487,537.9 C493.42,537.63 500.87,536.8 506.2,536.9 C511.53,537 515.8,537.7 519,538.5 C522.2,539.3 524.33,541.17 525.4,541.7" fill="none" stroke="#000" stroke-width="4" stroke-linejoin="round"/>
<path d="M164.3,613.8 C165.75,613.43 170.48,611.6 173,611.6 C175.52,611.6 176.73,613.8 179.4,613.8 C182.07,613.8 186.6,611.87 189,611.6 C191.4,611.33 191.13,615.3 193.8,612.2 C196.47,609.1 201.8,595.77 205,593 C208.2,590.23 210.33,599.87 213,595.6 C215.67,591.33 218.48,574.77 221,567.4 C223.52,560.03 225.68,550.87 228.1,551.4 C230.52,551.93 232.93,561.53 235.5,570.6 C238.07,579.67 241.1,600.73 243.5,605.8 C245.9,610.87 247.77,599.93 249.9,601 C252.03,602.07 253.63,616.2 256.3,612.2 C258.97,608.2 262.97,586.6 265.9,577 C268.83,567.4 270.7,559.52 273.9,554.6 C277.1,549.68 281.9,549.38 285.1,547.5 C288.3,545.62 290.17,543.2 293.1,543.3 C296.03,543.4 299.75,543.02 302.7,548.1 C305.65,553.18 308.12,564.45 310.8,573.8 C313.48,583.15 316.13,602.07 318.8,604.2 C321.47,606.33 323.87,590.72 326.8,586.6 C329.73,582.48 333.2,579.77 336.4,579.5 C339.6,579.23 343.07,581.15 346,585 C348.93,588.85 351.6,598.07 354,602.6 C356.4,607.13 358,614.87 360.4,612.2 C362.8,609.53 365.2,593.53 368.4,586.6 C371.6,579.67 376.13,570.07 379.6,570.6 C383.07,571.13 385.98,582.6 389.2,589.8 C392.42,597 395.95,613 398.9,613.8 C401.85,614.6 404.23,599.13 406.9,594.6 C409.57,590.07 412.23,586.6 414.9,586.6 C417.57,586.6 420.23,592.2 422.9,594.6 C425.57,597 427.97,600.73 430.9,601 C433.83,601.27 437.3,595.67 440.5,596.2 C443.7,596.73 446.9,601.1 450.1,604.2 C453.3,607.3 456.23,613.73 459.7,614.8 C463.17,615.87 466.88,613.43 470.9,610.6 C474.92,607.77 479.52,601.53 483.8,597.8 C488.08,594.07 492.87,589 496.6,588.2 C500.33,587.4 503,590.87 506.2,593 C509.4,595.13 512.6,599.4 515.8,601 C519,602.6 523.8,602.33 525.4,602.6" fill="none" stroke="#000" stroke-width="4" stroke-linejoin="round"/>
<path d="M164.3,689.1 C165.75,688.83 170.22,687.77 173,687.5 C175.78,687.23 178.33,689.9 181,687.5 C183.67,685.1 186.6,676.83 189,673.1 C191.4,669.37 193,666.97 195.4,665.1 C197.8,663.23 200.73,665.1 203.4,661.9 C206.07,658.7 208.72,652.58 211.4,645.9 C214.08,639.22 217.08,626.72 219.5,621.8 C221.92,616.88 223.5,615.87 225.9,616.4 C228.3,616.93 230.7,619.82 233.9,625 C237.1,630.18 241.9,640.02 245.1,647.5 C248.3,654.98 251.07,663.23 253.1,669.9 C255.13,676.57 255.43,686.7 257.3,687.5 C259.17,688.3 261.9,674.97 264.3,674.7 C266.7,674.43 269.03,692.05 271.7,685.9 C274.37,679.75 277.53,648.48 280.3,637.8 C283.07,627.12 285.63,621.8 288.3,621.8 C290.97,621.8 293.62,629.78 296.3,637.8 C298.98,645.82 301.72,662.15 304.4,669.9 C307.08,677.65 309.2,683.23 312.4,684.3 C315.6,685.37 319.6,675.6 323.6,676.3 C327.6,677 332.67,687.43 336.4,688.5 C340.13,689.57 342.53,682.87 346,682.7 C349.47,682.53 352.4,687.93 357.2,687.5 C362,687.07 367.58,680.47 374.8,680.1 C382.02,679.73 393.02,685.13 400.5,685.3 C407.98,685.47 411.7,680.83 419.7,681.1 C427.7,681.37 438.37,685.67 448.5,686.9 C458.63,688.13 470.88,688.13 480.5,688.5 C490.12,688.87 498.72,689.43 506.2,689.1 C513.68,688.77 522.2,686.93 525.4,686.5" fill="none" stroke="#0000ff" stroke-width="4.2" stroke-linejoin="round"/>
<text x="-3.23" y="461" font-family="Carlito, 'Liberation Sans', sans-serif" font-size="43.4" fill="#000" stroke="#000" stroke-width="0.4" textLength="49.24" lengthAdjust="spacingAndGlyphs">(e)</text>
<text x="125.84" y="479.8" font-family="'TeX Gyre Heros', 'Liberation Sans', Arial, sans-serif" font-size="28.5" fill="#000" stroke="#000" stroke-width="0.45">3</text>
<text x="125.73" y="552" font-family="'TeX Gyre Heros', 'Liberation Sans', Arial, sans-serif" font-size="28.5" fill="#000" stroke="#000" stroke-width="0.45">2</text>
<text x="127.09" y="625" font-family="'TeX Gyre Heros', 'Liberation Sans', Arial, sans-serif" font-size="28.5" fill="#000" stroke="#000" stroke-width="0.45">1</text>
<text x="125.66" y="698.6" font-family="'TeX Gyre Heros', 'Liberation Sans', Arial, sans-serif" font-size="28.5" fill="#000" stroke="#000" stroke-width="0.45">0</text>
<text x="156.44" y="734.9" font-family="Carlito, 'Liberation Sans', sans-serif" font-size="31.5" fill="#000" stroke="#000" stroke-width="0.4" textLength="15.37" lengthAdjust="spacingAndGlyphs">0</text>
<text x="246.33" y="734.9" font-family="Carlito, 'Liberation Sans', sans-serif" font-size="31.5" fill="#000" stroke="#000" stroke-width="0.4" textLength="16.53" lengthAdjust="spacingAndGlyphs">2</text>
<text x="337.27" y="734.9" font-family="Carlito, 'Liberation Sans', sans-serif" font-size="31.5" fill="#000" stroke="#000" stroke-width="0.4" textLength="15.45" lengthAdjust="spacingAndGlyphs">4</text>
<text x="427.37" y="734.9" font-family="Carlito, 'Liberation Sans', sans-serif" font-size="31.5" fill="#000" stroke="#000" stroke-width="0.4" textLength="17.19" lengthAdjust="spacingAndGlyphs">6</text>
<text x="518.37" y="734.9" font-family="Carlito, 'Liberation Sans', sans-serif" font-size="31.5" fill="#000" stroke="#000" stroke-width="0.4" textLength="16.84" lengthAdjust="spacingAndGlyphs">8</text>
<text x="359.06" y="499" font-family="Carlito, 'Liberation Sans', sans-serif" font-size="28" fill="#000" stroke="#000" stroke-width="0.4" textLength="158.06" lengthAdjust="spacingAndGlyphs">CoO (control)</text>
<text x="362.06" y="564.5" font-family="Carlito, 'Liberation Sans', sans-serif" font-size="28" fill="#000" stroke="#000" stroke-width="0.4" textLength="30.53" lengthAdjust="spacingAndGlyphs">Co</text>
<text x="392.36" y="571" font-family="Carlito, 'Liberation Sans', sans-serif" font-size="20" fill="#000" stroke="#000" stroke-width="0.4" textLength="9.41" lengthAdjust="spacingAndGlyphs">2</text>
<text x="403.05" y="564.5" font-family="Carlito, 'Liberation Sans', sans-serif" font-size="28" fill="#000" stroke="#000" stroke-width="0.4" textLength="17.88" lengthAdjust="spacingAndGlyphs">O</text>
<text x="421.1" y="571" font-family="Carlito, 'Liberation Sans', sans-serif" font-size="20" fill="#000" stroke="#000" stroke-width="0.4" textLength="9.6" lengthAdjust="spacingAndGlyphs">3</text>
<text x="431.39" y="564.5" font-family="Carlito, 'Liberation Sans', sans-serif" font-size="28" fill="#000" stroke="#000" stroke-width="0.4" textLength="101.77" lengthAdjust="spacingAndGlyphs">(control)</text>
<text x="364.98" y="639.5" font-family="Carlito, 'Liberation Sans', sans-serif" font-size="28.5" fill="#0535c8" stroke="#0535c8" stroke-width="0.4" textLength="96.81" lengthAdjust="spacingAndGlyphs">Without</text>
<text x="363.23" y="673.8" font-family="Carlito, 'Liberation Sans', sans-serif" font-size="28.5" fill="#0535c8" stroke="#0535c8" stroke-width="0.4" textLength="160.11" lengthAdjust="spacingAndGlyphs">pretreatment</text>
<text x="196.93" y="766.6" font-family="Carlito, 'Liberation Sans', sans-serif" font-size="31" fill="#000" stroke="#000" stroke-width="0.4" textLength="283.85" lengthAdjust="spacingAndGlyphs">Atoms distance R [Å]</text>
<text transform="translate(64.3,658) rotate(-90)" x="-0.17" y="0" font-family="Carlito, 'Liberation Sans', sans-serif" font-size="32" fill="#000" stroke="#000" stroke-width="0.4" textLength="162.92" lengthAdjust="spacingAndGlyphs">Absorbance</text>
<text transform="translate(105.4,656.4) rotate(-90)" x="-2.6" y="0" font-family="Carlito, 'Liberation Sans', sans-serif" font-size="32.8" fill="#000" stroke="#000" stroke-width="0.4" textLength="149.15" lengthAdjust="spacingAndGlyphs">[arb. units]</text>
<line x1="213.05" y1="803.9" x2="213.05" y2="811.9" stroke="#000" stroke-width="2.6"/>
<line x1="213.05" y1="1047.3" x2="213.05" y2="1039.3" stroke="#000" stroke-width="2.6"/>
<line x1="258.2" y1="803.9" x2="258.2" y2="811.9" stroke="#000" stroke-width="2.6"/>
<line x1="258.2" y1="1047.3" x2="258.2" y2="1039.3" stroke="#000" stroke-width="2.6"/>
<line x1="303.35" y1="803.9" x2="303.35" y2="811.9" stroke="#000" stroke-width="2.6"/>
<line x1="303.35" y1="1047.3" x2="303.35" y2="1039.3" stroke="#000" stroke-width="2.6"/>
<line x1="348.5" y1="803.9" x2="348.5" y2="811.9" stroke="#000" stroke-width="2.6"/>
<line x1="348.5" y1="1047.3" x2="348.5" y2="1039.3" stroke="#000" stroke-width="2.6"/>
<line x1="393.65" y1="803.9" x2="393.65" y2="811.9" stroke="#000" stroke-width="2.6"/>
<line x1="393.65" y1="1047.3" x2="393.65" y2="1039.3" stroke="#000" stroke-width="2.6"/>
<line x1="438.8" y1="803.9" x2="438.8" y2="811.9" stroke="#000" stroke-width="2.6"/>
<line x1="438.8" y1="1047.3" x2="438.8" y2="1039.3" stroke="#000" stroke-width="2.6"/>
<line x1="483.95" y1="803.9" x2="483.95" y2="811.9" stroke="#000" stroke-width="2.6"/>
<line x1="483.95" y1="1047.3" x2="483.95" y2="1039.3" stroke="#000" stroke-width="2.6"/>
<line x1="529.1" y1="803.9" x2="529.1" y2="811.9" stroke="#000" stroke-width="2.6"/>
<line x1="529.1" y1="1047.3" x2="529.1" y2="1039.3" stroke="#000" stroke-width="2.6"/>
<line x1="167.9" y1="803.9" x2="167.9" y2="816.9" stroke="#000" stroke-width="4"/>
<line x1="167.9" y1="1047.3" x2="167.9" y2="1039.3" stroke="#000" stroke-width="2.6"/>
<line x1="151.5" y1="1016.62" x2="155" y2="1016.62" stroke="#000" stroke-width="2.6"/>
<line x1="546.6" y1="1016.62" x2="543.1" y2="1016.62" stroke="#000" stroke-width="2.6"/>
<line x1="151.5" y1="993.94" x2="155" y2="993.94" stroke="#000" stroke-width="2.6"/>
<line x1="546.6" y1="993.94" x2="543.1" y2="993.94" stroke="#000" stroke-width="2.6"/>
<line x1="151.5" y1="971.26" x2="155" y2="971.26" stroke="#000" stroke-width="2.6"/>
<line x1="546.6" y1="971.26" x2="543.1" y2="971.26" stroke="#000" stroke-width="2.6"/>
<line x1="151.5" y1="948.58" x2="155" y2="948.58" stroke="#000" stroke-width="2.6"/>
<line x1="546.6" y1="948.58" x2="543.1" y2="948.58" stroke="#000" stroke-width="2.6"/>
<line x1="151.5" y1="903.22" x2="155" y2="903.22" stroke="#000" stroke-width="2.6"/>
<line x1="546.6" y1="903.22" x2="543.1" y2="903.22" stroke="#000" stroke-width="2.6"/>
<line x1="151.5" y1="880.54" x2="155" y2="880.54" stroke="#000" stroke-width="2.6"/>
<line x1="546.6" y1="880.54" x2="543.1" y2="880.54" stroke="#000" stroke-width="2.6"/>
<line x1="151.5" y1="857.86" x2="155" y2="857.86" stroke="#000" stroke-width="2.6"/>
<line x1="546.6" y1="857.86" x2="543.1" y2="857.86" stroke="#000" stroke-width="2.6"/>
<line x1="151.5" y1="835.18" x2="155" y2="835.18" stroke="#000" stroke-width="2.6"/>
<line x1="546.6" y1="835.18" x2="543.1" y2="835.18" stroke="#000" stroke-width="2.6"/>
<line x1="151.5" y1="1039.3" x2="165.5" y2="1039.3" stroke="#000" stroke-width="3.6"/>
<line x1="546.6" y1="1039.3" x2="532.6" y2="1039.3" stroke="#000" stroke-width="3.6"/>
<line x1="151.5" y1="925.9" x2="159.5" y2="925.9" stroke="#000" stroke-width="2.8"/>
<line x1="546.6" y1="925.9" x2="538.6" y2="925.9" stroke="#000" stroke-width="2.8"/>
<line x1="151.5" y1="812.5" x2="159.5" y2="812.5" stroke="#000" stroke-width="2.8"/>
<line x1="546.6" y1="812.5" x2="538.6" y2="812.5" stroke="#000" stroke-width="2.8"/>
<rect x="149.6" y="802" width="398.9" height="247.2" fill="none" stroke="#000" stroke-width="3.8" stroke-linejoin="miter"/>
<path d="M167.9,923.4 C171.42,923.4 182.87,923.62 189,923.4 C195.13,923.18 199.45,922.37 204.7,922.1 C209.95,921.83 216.82,922.48 220.5,921.8 C224.18,921.12 224.7,919.68 226.8,918 C228.9,916.32 231,911.8 233.1,911.7 C235.2,911.6 237.57,920.02 239.4,917.4 C241.23,914.78 242.27,907.45 244.1,896 C245.93,884.55 248.3,861.3 250.4,848.7 C252.5,836.1 254.6,826.33 256.7,820.4 C258.8,814.47 260.9,812.58 263,813.1 C265.1,813.62 267.2,817.03 269.3,823.5 C271.4,829.97 273.5,840.87 275.6,851.9 C277.7,862.93 279.28,879.1 281.9,889.7 C284.52,900.3 287.88,912.52 291.3,915.5 C294.72,918.48 298.2,907.43 302.4,907.6 C306.6,907.77 312.3,916.87 316.5,916.5 C320.7,916.13 323.4,909.45 327.6,905.4 C331.8,901.35 336.98,893.25 341.7,892.2 C346.42,891.15 350.9,897.42 355.9,899.1 C360.9,900.78 366.97,900.45 371.7,902.3 C376.43,904.15 379.58,906.95 384.3,910.2 C389.02,913.45 393.18,919.33 400,921.8 C406.82,924.27 415.23,924.83 425.2,925 C435.17,925.17 450.88,924.38 459.8,922.8 C468.72,921.22 472.4,915.88 478.7,915.5 C485,915.12 489.2,918.92 497.6,920.5 C506,922.08 523.85,924.25 529.1,925" fill="none" stroke="#000" stroke-width="4" stroke-linejoin="round"/>
<path d="M167.9,1033 C170.37,1033 178.92,1033.37 182.7,1033 C186.48,1032.63 188.23,1030.02 190.6,1030.8 C192.97,1031.58 194.02,1039.7 196.9,1037.7 C199.78,1035.7 204.5,1020.12 207.9,1018.8 C211.3,1017.48 214.68,1030.32 217.3,1029.8 C219.92,1029.28 221.23,1021.73 223.6,1015.7 C225.97,1009.67 228.35,998.17 231.5,993.6 C234.65,989.03 239.08,994.07 242.5,988.3 C245.92,982.53 249.12,968.08 252,959 C254.88,949.92 257.7,939.42 259.8,933.8 C261.9,928.18 262.75,924.25 264.6,925.3 C266.45,926.35 268.8,931.33 270.9,940.1 C273,948.87 274.85,962.68 277.2,977.9 C279.55,993.12 281.85,1025.37 285,1031.4 C288.15,1037.43 292.68,1016.2 296.1,1014.1 C299.52,1012 302.1,1014.87 305.5,1018.8 C308.9,1022.73 312.82,1036.92 316.5,1037.7 C320.18,1038.48 323.65,1028.07 327.6,1023.5 C331.55,1018.93 335.48,1011.72 340.2,1010.3 C344.92,1008.88 350.65,1014.37 355.9,1015 C361.15,1015.63 366.97,1012.93 371.7,1014.1 C376.43,1015.27 380.63,1019.22 384.3,1022 C387.97,1024.78 389.52,1029.07 393.7,1030.8 C397.88,1032.53 405.2,1031.25 409.4,1032.4 C413.6,1033.55 415.75,1037.18 418.9,1037.7 C422.05,1038.22 425.15,1035.33 428.3,1035.5 C431.45,1035.67 433.6,1039.22 437.8,1038.7 C442,1038.18 447.73,1032.83 453.5,1032.4 C459.27,1031.97 465.05,1035.32 472.4,1036.1 C479.75,1036.88 488.15,1037.1 497.6,1037.1 C507.05,1037.1 523.85,1036.27 529.1,1036.1" fill="none" stroke="#ff0000" stroke-width="4.2" stroke-linejoin="round"/>
<text x="9.95" y="813.8" font-family="Carlito, 'Liberation Sans', sans-serif" font-size="43.4" fill="#000" stroke="#000" stroke-width="0.4" textLength="41.57" lengthAdjust="spacingAndGlyphs">(f)</text>
<text x="128.38" y="822" font-family="'TeX Gyre Heros', 'Liberation Sans', Arial, sans-serif" font-size="28.5" fill="#000" stroke="#000" stroke-width="0.45">2</text>
<text x="129.59" y="935.4" font-family="'TeX Gyre Heros', 'Liberation Sans', Arial, sans-serif" font-size="28.5" fill="#000" stroke="#000" stroke-width="0.45">1</text>
<text x="128.31" y="1048.7" font-family="'TeX Gyre Heros', 'Liberation Sans', Arial, sans-serif" font-size="28.5" fill="#000" stroke="#000" stroke-width="0.45">0</text>
<text x="160.03" y="1080.7" font-family="Carlito, 'Liberation Sans', sans-serif" font-size="31.5" fill="#000" stroke="#000" stroke-width="0.4" textLength="15.59" lengthAdjust="spacingAndGlyphs">0</text>
<text x="249.96" y="1080.7" font-family="Carlito, 'Liberation Sans', sans-serif" font-size="31.5" fill="#000" stroke="#000" stroke-width="0.4" textLength="16.17" lengthAdjust="spacingAndGlyphs">2</text>
<text x="340.48" y="1080.7" font-family="Carlito, 'Liberation Sans', sans-serif" font-size="31.5" fill="#000" stroke="#000" stroke-width="0.4" textLength="15.02" lengthAdjust="spacingAndGlyphs">4</text>
<text x="431.23" y="1080.7" font-family="Carlito, 'Liberation Sans', sans-serif" font-size="31.5" fill="#000" stroke="#000" stroke-width="0.4" textLength="16.6" lengthAdjust="spacingAndGlyphs">6</text>
<text x="521.98" y="1080.7" font-family="Carlito, 'Liberation Sans', sans-serif" font-size="31.5" fill="#000" stroke="#000" stroke-width="0.4" textLength="16.72" lengthAdjust="spacingAndGlyphs">8</text>
<text x="369.07" y="894.4" font-family="Carlito, 'Liberation Sans', sans-serif" font-size="28.5" fill="#000" stroke="#000" stroke-width="0.4" textLength="137.03" lengthAdjust="spacingAndGlyphs">Co (control)</text>
<text x="360.31" y="970" font-family="Carlito, 'Liberation Sans', sans-serif" font-size="28.5" fill="#ff0000" stroke="#ff0000" stroke-width="0.4" textLength="52.42" lengthAdjust="spacingAndGlyphs">with</text>
<text x="358.62" y="1004.6" font-family="Carlito, 'Liberation Sans', sans-serif" font-size="28.5" fill="#ff0000" stroke="#ff0000" stroke-width="0.4" textLength="160.92" lengthAdjust="spacingAndGlyphs">pretreatment</text>
<text x="210.83" y="1116.5" font-family="Carlito, 'Liberation Sans', sans-serif" font-size="31" fill="#000" stroke="#000" stroke-width="0.4" textLength="283.04" lengthAdjust="spacingAndGlyphs">Atoms distance R [Å]</text>
<text transform="translate(67.3,1018.6) rotate(-90)" x="-0.17" y="0" font-family="Carlito, 'Liberation Sans', sans-serif" font-size="32" fill="#000" stroke="#000" stroke-width="0.4" textLength="162.92" lengthAdjust="spacingAndGlyphs">Absorbance</text>
<text transform="translate(109.2,1016.2) rotate(-90)" x="-2.63" y="0" font-family="Carlito, 'Liberation Sans', sans-serif" font-size="32.8" fill="#000" stroke="#000" stroke-width="0.4" textLength="150.81" lengthAdjust="spacingAndGlyphs">[arb. units]</text>
<line x1="814.35" y1="984" x2="829.35" y2="984" stroke="#000" stroke-width="4.8"/>
<line x1="1306.85" y1="984" x2="1291.85" y2="984" stroke="#000" stroke-width="4.8"/>
<line x1="814.35" y1="952.04" x2="824.85" y2="952.04" stroke="#000" stroke-width="3"/>
<line x1="1306.85" y1="952.04" x2="1296.35" y2="952.04" stroke="#000" stroke-width="3"/>
<line x1="814.35" y1="920.08" x2="824.85" y2="920.08" stroke="#000" stroke-width="3"/>
<line x1="1306.85" y1="920.08" x2="1296.35" y2="920.08" stroke="#000" stroke-width="3"/>
<line x1="814.35" y1="888.12" x2="824.85" y2="888.12" stroke="#000" stroke-width="3"/>
<line x1="1306.85" y1="888.12" x2="1296.35" y2="888.12" stroke="#000" stroke-width="3"/>
<line x1="814.35" y1="856.16" x2="824.85" y2="856.16" stroke="#000" stroke-width="3"/>
<line x1="1306.85" y1="856.16" x2="1296.35" y2="856.16" stroke="#000" stroke-width="3"/>
<line x1="814.35" y1="824.2" x2="824.85" y2="824.2" stroke="#000" stroke-width="3"/>
<line x1="1306.85" y1="824.2" x2="1296.35" y2="824.2" stroke="#000" stroke-width="3"/>
<line x1="814.35" y1="792.24" x2="824.85" y2="792.24" stroke="#000" stroke-width="3"/>
<line x1="1306.85" y1="792.24" x2="1296.35" y2="792.24" stroke="#000" stroke-width="3"/>
<line x1="814.35" y1="760.28" x2="824.85" y2="760.28" stroke="#000" stroke-width="3"/>
<line x1="1306.85" y1="760.28" x2="1296.35" y2="760.28" stroke="#000" stroke-width="3"/>
<line x1="814.35" y1="728.32" x2="824.85" y2="728.32" stroke="#000" stroke-width="3"/>
<line x1="1306.85" y1="728.32" x2="1296.35" y2="728.32" stroke="#000" stroke-width="3"/>
<line x1="814.35" y1="696.36" x2="824.85" y2="696.36" stroke="#000" stroke-width="3"/>
<line x1="1306.85" y1="696.36" x2="1296.35" y2="696.36" stroke="#000" stroke-width="3"/>
<line x1="814.35" y1="664.4" x2="829.35" y2="664.4" stroke="#000" stroke-width="4.8"/>
<line x1="1306.85" y1="664.4" x2="1291.85" y2="664.4" stroke="#000" stroke-width="4.8"/>
<line x1="814.35" y1="632.44" x2="824.85" y2="632.44" stroke="#000" stroke-width="3"/>
<line x1="1306.85" y1="632.44" x2="1296.35" y2="632.44" stroke="#000" stroke-width="3"/>
<line x1="814.35" y1="600.48" x2="824.85" y2="600.48" stroke="#000" stroke-width="3"/>
<line x1="1306.85" y1="600.48" x2="1296.35" y2="600.48" stroke="#000" stroke-width="3"/>
<line x1="814.35" y1="568.52" x2="824.85" y2="568.52" stroke="#000" stroke-width="3"/>
<line x1="1306.85" y1="568.52" x2="1296.35" y2="568.52" stroke="#000" stroke-width="3"/>
<line x1="814.35" y1="536.56" x2="824.85" y2="536.56" stroke="#000" stroke-width="3"/>
<line x1="1306.85" y1="536.56" x2="1296.35" y2="536.56" stroke="#000" stroke-width="3"/>
<line x1="894.45" y1="506.85" x2="894.45" y2="516.85" stroke="#000" stroke-width="2.2"/>
<line x1="894.45" y1="997.45" x2="894.45" y2="987.45" stroke="#000" stroke-width="2.2"/>
<line x1="977.5" y1="506.85" x2="977.5" y2="516.85" stroke="#000" stroke-width="2.2"/>
<line x1="977.5" y1="997.45" x2="977.5" y2="987.45" stroke="#000" stroke-width="2.2"/>
<line x1="1060.55" y1="506.85" x2="1060.55" y2="516.85" stroke="#000" stroke-width="2.2"/>
<line x1="1060.55" y1="997.45" x2="1060.55" y2="987.45" stroke="#000" stroke-width="2.2"/>
<line x1="1143.6" y1="506.85" x2="1143.6" y2="516.85" stroke="#000" stroke-width="2.2"/>
<line x1="1143.6" y1="997.45" x2="1143.6" y2="987.45" stroke="#000" stroke-width="2.2"/>
<line x1="1226.65" y1="506.85" x2="1226.65" y2="516.85" stroke="#000" stroke-width="2.2"/>
<line x1="1226.65" y1="997.45" x2="1226.65" y2="987.45" stroke="#000" stroke-width="2.2"/>
<rect x="812" y="504.5" width="497.2" height="495.3" fill="none" stroke="#000" stroke-width="4.7" stroke-linejoin="miter"/>
<path d="M811.4,980.5 C819.5,980.25 845.72,979.92 860,979 C874.28,978.08 888.2,976.17 897.1,975 C906,973.83 908.75,973.92 913.4,972 C918.05,970.08 920.57,966.67 925,963.5 C929.43,960.33 933.78,957.13 940,953 C946.22,948.87 954.97,942.12 962.3,938.7 C969.63,935.28 977.72,933.83 984,932.5 C990.28,931.17 994.57,931.2 1000,930.7 C1005.43,930.2 1008.42,932.23 1016.6,929.5 C1024.78,926.77 1037.35,920 1049.1,914.3 C1060.85,908.6 1076.23,900.28 1087.1,895.3 C1097.97,890.32 1104.35,888.65 1114.3,884.4 C1124.25,880.15 1135.95,875.23 1146.8,869.8 C1157.65,864.37 1168.53,855.97 1179.4,851.8 C1190.27,847.63 1200.23,846.42 1212,844.8 C1223.77,843.18 1233.9,842.92 1250,842.1 C1266.1,841.28 1298.83,840.27 1308.6,839.9" fill="none" stroke="#000" stroke-width="5.4" stroke-linejoin="round" stroke-dasharray="24,10"/>
<path d="M811.4,983.7 C821.17,983.43 853.9,983.08 870,982.1 C886.1,981.12 898.95,978.88 908,977.8 C917.05,976.72 917.07,975.78 924.3,975.6 C931.53,975.42 941.45,976.7 951.4,976.7 C961.35,976.7 973.13,976.5 984,975.6 C994.87,974.7 1007.55,974.28 1016.6,971.3 C1025.65,968.32 1031.07,963.58 1038.3,957.7 C1045.53,951.82 1051.87,945.95 1060,936 C1068.13,926.05 1078.05,912.48 1087.1,898 C1096.15,883.52 1106.98,862.43 1114.3,849.1 C1121.62,835.77 1125.68,826.65 1131,818 C1136.32,809.35 1141.62,804.07 1146.2,797.2 C1150.78,790.33 1154.07,783.28 1158.5,776.8 C1162.93,770.32 1167.68,763.77 1172.8,758.3 C1177.92,752.83 1183.05,747.92 1189.2,744 C1195.35,740.08 1203.57,736.75 1209.7,734.8 C1215.83,732.85 1220.88,732.13 1226,732.3 C1231.12,732.47 1235.62,733.52 1240.4,735.8 C1245.18,738.08 1249.58,741.57 1254.7,746 C1259.82,750.43 1265.63,756.93 1271.1,762.4 C1276.57,767.87 1281.25,773.28 1287.5,778.8 C1293.75,784.32 1305.08,792.72 1308.6,795.5" fill="none" stroke="#0000ff" stroke-width="5.4" stroke-linejoin="round" stroke-dasharray="24,10"/>
<path d="M811.4,979.4 C816.65,978.95 832.23,977.33 842.9,976.7 C853.57,976.07 865.45,976.5 875.4,975.6 C885.35,974.7 895.37,973.57 902.6,971.3 C909.83,969.03 912.47,966.53 918.8,962 C925.13,957.47 933.35,949.07 940.6,944.1 C947.85,939.13 955.07,935.37 962.3,932.2 C969.53,929.03 976.77,927.37 984,925.1 C991.23,922.83 998.47,921.32 1005.7,918.6 C1012.93,915.88 1019.27,915.85 1027.4,908.8 C1035.53,901.75 1045.45,890.77 1054.5,876.3 C1063.55,861.83 1075.62,834.72 1081.7,822 C1087.78,809.28 1086.05,811.3 1091,800 C1095.95,788.7 1104.58,769.33 1111.4,754.2 C1118.22,739.07 1126.43,721.73 1131.9,709.2 C1137.37,696.67 1140.12,688.37 1144.2,679 C1148.28,669.63 1152.32,661.17 1156.4,653 C1160.48,644.83 1164.6,636.58 1168.7,630 C1172.8,623.42 1176.9,618 1181,613.5 C1185.1,609 1189.13,605.5 1193.3,603 C1197.47,600.5 1201.88,599.4 1206,598.5 C1210.12,597.6 1214,597.35 1218,597.6 C1222,597.85 1225.5,598.43 1230,600 C1234.5,601.57 1239.42,603.83 1245,607 C1250.58,610.17 1257.85,615.25 1263.5,619 C1269.15,622.75 1274.48,626.42 1278.9,629.5 C1283.32,632.58 1285.05,634.12 1290,637.5 C1294.95,640.88 1305.5,647.75 1308.6,649.8" fill="none" stroke="#ff0000" stroke-width="4.6" stroke-linejoin="round"/>
<path d="M811.4,979.4 C816.65,978.95 832.23,977.4 842.9,976.7 C853.57,976 865.45,976.27 875.4,975.2 C885.35,974.13 895.37,972.75 902.6,970.3 C909.83,967.85 912.47,965.38 918.8,960.5 C925.13,955.62 933.35,946.17 940.6,941 C947.85,935.83 955.07,932.6 962.3,929.5 C969.53,926.4 976.77,924.55 984,922.4 C991.23,920.25 998.47,919.08 1005.7,916.6 C1012.93,914.12 1019.27,913.77 1027.4,907.5 C1035.53,901.23 1045.45,891.45 1054.5,879 C1063.55,866.55 1074.28,845.97 1081.7,832.8 C1089.12,819.63 1093.02,813.47 1099,800 C1104.98,786.53 1111.43,767 1117.6,752 C1123.77,737 1130.88,721.83 1136,710 C1141.12,698.17 1143.53,691.83 1148.3,681 C1153.07,670.17 1159.15,654.92 1164.6,645 C1170.05,635.08 1175.53,628.17 1181,621.5 C1186.47,614.83 1191.93,609.25 1197.4,605 C1202.87,600.75 1208.7,598 1213.8,596 C1218.9,594 1223.13,593.17 1228,593 C1232.87,592.83 1237.83,593.33 1243,595 C1248.17,596.67 1253.75,599.5 1259,603 C1264.25,606.5 1269.33,611 1274.5,616 C1279.67,621 1284.32,627.5 1290,633 C1295.68,638.5 1305.5,646.33 1308.6,649" fill="none" stroke="#33ee33" stroke-width="2.8" stroke-linejoin="round" stroke-dasharray="6,5"/>
<text x="683.04" y="538.5" font-family="'TeX Gyre Heros', 'Liberation Sans', Arial, sans-serif" font-size="36" fill="#000" stroke="#000" stroke-width="0.45">(g)</text>
<text x="756.4" y="516.4" font-family="'TeX Gyre Heros', 'Liberation Sans', Arial, sans-serif" font-size="36" fill="#000" stroke="#000" stroke-width="0.45">1.5</text>
<text x="786.9" y="676.5" font-family="'TeX Gyre Heros', 'Liberation Sans', Arial, sans-serif" font-size="36" fill="#000" stroke="#000" stroke-width="0.45">1</text>
<text x="757.48" y="836.5" font-family="'TeX Gyre Heros', 'Liberation Sans', Arial, sans-serif" font-size="36" fill="#000" stroke="#000" stroke-width="0.45">0.5</text>
<text x="785.2" y="996.3" font-family="'TeX Gyre Heros', 'Liberation Sans', Arial, sans-serif" font-size="36" fill="#000" stroke="#000" stroke-width="0.45">0</text>
<text x="770.34" y="1039" font-family="'TeX Gyre Heros', 'Liberation Sans', Arial, sans-serif" font-size="36" fill="#000" stroke="#000" stroke-width="0.45">7700</text>
<text x="936.04" y="1039" font-family="'TeX Gyre Heros', 'Liberation Sans', Arial, sans-serif" font-size="36" fill="#000" stroke="#000" stroke-width="0.45">7710</text>
<text x="1102.04" y="1039" font-family="'TeX Gyre Heros', 'Liberation Sans', Arial, sans-serif" font-size="36" fill="#000" stroke="#000" stroke-width="0.45">7720</text>
<text x="1267.64" y="1039" font-family="'TeX Gyre Heros', 'Liberation Sans', Arial, sans-serif" font-size="36" fill="#000" stroke="#000" stroke-width="0.45">7730</text>
<text x="966.1" y="1071.1" font-family="Carlito, 'Liberation Sans', sans-serif" font-size="38" fill="#000" stroke="#000" stroke-width="0.4" textLength="180.25" lengthAdjust="spacingAndGlyphs">Energy [eV]</text>
<text transform="translate(725.4,949) rotate(-90)" x="-0.19" y="0" font-family="Carlito, 'Liberation Sans', sans-serif" font-size="38" fill="#000" stroke="#000" stroke-width="0.4" textLength="365.43" lengthAdjust="spacingAndGlyphs">Absorbance [arb. units]</text>
<text x="1008.67" y="569.5" font-family="Carlito, 'Liberation Sans', sans-serif" font-size="38.5" fill="#00b050" stroke="#00b050" stroke-width="0.4" textLength="274.03" lengthAdjust="spacingAndGlyphs">Fitting curve (i+ii)</text>
<text x="885.52" y="658.8" font-family="Carlito, 'Liberation Sans', sans-serif" font-size="38.5" fill="#ff0000" stroke="#ff0000" stroke-width="0.4" textLength="68.96" lengthAdjust="spacingAndGlyphs">with</text>
<text x="883.68" y="705" font-family="Carlito, 'Liberation Sans', sans-serif" font-size="38.5" fill="#ff0000" stroke="#ff0000" stroke-width="0.4" textLength="212.33" lengthAdjust="spacingAndGlyphs">pretreatment</text>
<text x="1145.5" y="705.9" font-family="Carlito, 'Liberation Sans', sans-serif" font-size="38.5" fill="#0535c8" stroke="#0535c8" stroke-width="0.4" textLength="132.74" lengthAdjust="spacingAndGlyphs">(ii) CoOx</text>
<text x="1184.63" y="900.7" font-family="Carlito, 'Liberation Sans', sans-serif" font-size="38.5" fill="#000" stroke="#000" stroke-width="0.4" textLength="84.17" lengthAdjust="spacingAndGlyphs">(i) Co</text>
<line x1="1506.9" y1="998.4" x2="1521.9" y2="998.4" stroke="#000" stroke-width="4.5"/>
<line x1="1809.7" y1="998.4" x2="1794.7" y2="998.4" stroke="#000" stroke-width="4.5"/>
<line x1="1506.9" y1="954.1" x2="1511.9" y2="954.1" stroke="#000" stroke-width="2.6"/>
<line x1="1809.7" y1="954.1" x2="1804.7" y2="954.1" stroke="#000" stroke-width="2.6"/>
<line x1="1506.9" y1="909.8" x2="1511.9" y2="909.8" stroke="#000" stroke-width="2.6"/>
<line x1="1809.7" y1="909.8" x2="1804.7" y2="909.8" stroke="#000" stroke-width="2.6"/>
<line x1="1506.9" y1="865.5" x2="1511.9" y2="865.5" stroke="#000" stroke-width="2.6"/>
<line x1="1809.7" y1="865.5" x2="1804.7" y2="865.5" stroke="#000" stroke-width="2.6"/>
<line x1="1506.9" y1="821.2" x2="1511.9" y2="821.2" stroke="#000" stroke-width="2.6"/>
<line x1="1809.7" y1="821.2" x2="1804.7" y2="821.2" stroke="#000" stroke-width="2.6"/>
<line x1="1506.9" y1="776.9" x2="1511.9" y2="776.9" stroke="#000" stroke-width="2.6"/>
<line x1="1809.7" y1="776.9" x2="1804.7" y2="776.9" stroke="#000" stroke-width="2.6"/>
<line x1="1506.9" y1="732.6" x2="1511.9" y2="732.6" stroke="#000" stroke-width="2.6"/>
<line x1="1809.7" y1="732.6" x2="1804.7" y2="732.6" stroke="#000" stroke-width="2.6"/>
<line x1="1506.9" y1="688.3" x2="1511.9" y2="688.3" stroke="#000" stroke-width="2.6"/>
<line x1="1809.7" y1="688.3" x2="1804.7" y2="688.3" stroke="#000" stroke-width="2.6"/>
<line x1="1506.9" y1="644" x2="1511.9" y2="644" stroke="#000" stroke-width="2.6"/>
<line x1="1809.7" y1="644" x2="1804.7" y2="644" stroke="#000" stroke-width="2.6"/>
<line x1="1506.9" y1="599.7" x2="1511.9" y2="599.7" stroke="#000" stroke-width="2.6"/>
<line x1="1809.7" y1="599.7" x2="1804.7" y2="599.7" stroke="#000" stroke-width="2.6"/>
<line x1="1506.9" y1="555.4" x2="1516.9" y2="555.4" stroke="#000" stroke-width="2.6"/>
<line x1="1809.7" y1="555.4" x2="1799.7" y2="555.4" stroke="#000" stroke-width="2.6"/>
<line x1="1555.9" y1="513.3" x2="1555.9" y2="516.9" stroke="#000" stroke-width="2.6"/>
<line x1="1555.9" y1="999.2" x2="1555.9" y2="995.6" stroke="#000" stroke-width="2.6"/>
<line x1="1607.2" y1="513.3" x2="1607.2" y2="523.3" stroke="#000" stroke-width="2.6"/>
<line x1="1607.2" y1="999.2" x2="1607.2" y2="989.2" stroke="#000" stroke-width="2.6"/>
<line x1="1658.2" y1="513.3" x2="1658.2" y2="516.9" stroke="#000" stroke-width="2.6"/>
<line x1="1658.2" y1="999.2" x2="1658.2" y2="995.6" stroke="#000" stroke-width="2.6"/>
<line x1="1709.8" y1="513.3" x2="1709.8" y2="523.3" stroke="#000" stroke-width="2.6"/>
<line x1="1709.8" y1="999.2" x2="1709.8" y2="989.2" stroke="#000" stroke-width="2.6"/>
<line x1="1761.1" y1="513.3" x2="1761.1" y2="516.9" stroke="#000" stroke-width="2.6"/>
<line x1="1761.1" y1="999.2" x2="1761.1" y2="995.6" stroke="#000" stroke-width="2.6"/>
<rect x="1504.6" y="511" width="307.4" height="490.5" fill="none" stroke="#000" stroke-width="4.8" stroke-linejoin="miter"/>
<line x1="1516" y1="784.3" x2="1607" y2="784.3" stroke="#000" stroke-width="1.6" stroke-dasharray="5,3"/>
<path d="M1595.3,997.9 H1606" stroke="#0000ff" stroke-width="3" fill="none"/>
<rect x="1698" y="555.5" width="23.2" height="444.2" fill="none" stroke="#0000ff" stroke-width="4.6"/>
<rect x="1605" y="786" width="24.3" height="213.4" fill="#fff" stroke="#ff0000" stroke-width="4.6"/>
<rect x="1707.7" y="768.5" width="24.6" height="230.9" fill="#fff" stroke="#ff0000" stroke-width="4.6"/>
<text x="1353.59" y="538.5" font-family="'TeX Gyre Heros', 'Liberation Sans', Arial, sans-serif" font-size="36.4" fill="#000" stroke="#000" stroke-width="0.45">(h)</text>
<text x="1438.54" y="567.5" font-family="'TeX Gyre Heros', 'Liberation Sans', Arial, sans-serif" font-size="36" fill="#000" stroke="#000" stroke-width="0.45">100</text>
<text x="1478.35" y="1011.5" font-family="'TeX Gyre Heros', 'Liberation Sans', Arial, sans-serif" font-size="36" fill="#000" stroke="#000" stroke-width="0.45">0</text>
<text x="1405.83" y="788.4" font-family="Carlito, 'Liberation Sans', sans-serif" font-size="37" fill="#ff0000" stroke="#ff0000" stroke-width="0.4" textLength="74.39" lengthAdjust="spacingAndGlyphs">48 %</text>
<text x="1544.22" y="601.7" font-family="Carlito, 'Liberation Sans', sans-serif" font-size="38" fill="#0535c8" stroke="#0535c8" stroke-width="0.4" textLength="120.94" lengthAdjust="spacingAndGlyphs">without</text>
<text x="1541.88" y="648.2" font-family="Carlito, 'Liberation Sans', sans-serif" font-size="38" fill="#0535c8" stroke="#0535c8" stroke-width="0.4" textLength="212.53" lengthAdjust="spacingAndGlyphs">pretreatment</text>
<text x="1530.21" y="876.1" font-family="Carlito, 'Liberation Sans', sans-serif" font-size="38" fill="#ff0000" stroke="#ff0000" stroke-width="0.4" textLength="71.04" lengthAdjust="spacingAndGlyphs">with</text>
<text x="1527.97" y="922" font-family="Carlito, 'Liberation Sans', sans-serif" font-size="38" fill="#ff0000" stroke="#ff0000" stroke-width="0.4" textLength="213.14" lengthAdjust="spacingAndGlyphs">pretreatment</text>
<text x="1579.26" y="1035.3" font-family="Carlito, 'Liberation Sans', sans-serif" font-size="38" fill="#000" stroke="#000" stroke-width="0.4" textLength="40.6" lengthAdjust="spacingAndGlyphs">Co</text>
<text x="1665.08" y="1035.3" font-family="Carlito, 'Liberation Sans', sans-serif" font-size="38" fill="#000" stroke="#000" stroke-width="0.4" textLength="64.64" lengthAdjust="spacingAndGlyphs">CoO</text>
<text x="1730.7" y="1044.7" font-family="Carlito, 'Liberation Sans', sans-serif" font-size="26.5" fill="#000" stroke="#000" stroke-width="0.4" textLength="10.56" lengthAdjust="spacingAndGlyphs">x</text>
<text transform="translate(1396.6,921.6) rotate(-90)" x="-1.25" y="0" font-family="Carlito, 'Liberation Sans', sans-serif" font-size="36.8" fill="#000" stroke="#000" stroke-width="0.4" textLength="282.52" lengthAdjust="spacingAndGlyphs">Concentration [%]</text>
<line x1="1497" y1="1022" x2="1497" y2="1035" stroke="#888" stroke-width="1.2"/>
</svg></body></html>
